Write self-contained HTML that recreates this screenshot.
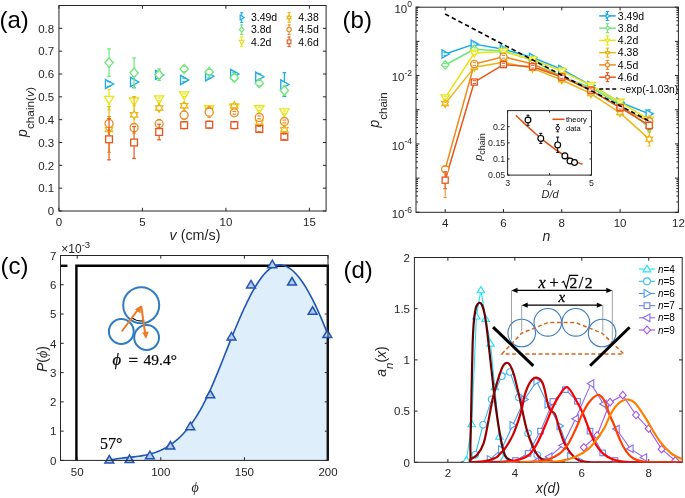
<!DOCTYPE html>
<html><head><meta charset="utf-8"><style>html,body{margin:0;padding:0;background:#fff;}svg{display:block;will-change:transform;}</style></head>
<body>
<svg width="685" height="498" viewBox="0 0 685 498" shape-rendering="geometricPrecision">
<rect width="685" height="498" fill="#fff"/>
<line x1="109.04" y1="81.76" x2="109.04" y2="86.33" stroke="#18aae8" stroke-width="1.2" />
<polygon points="105.44,79.45 113.64,84.05 105.44,88.65" fill="#fff" stroke="#18aae8" stroke-width="1.3" stroke-linejoin="miter"/>
<line x1="107.14" y1="81.76" x2="110.94" y2="81.76" stroke="#18aae8" stroke-width="1.2" />
<line x1="107.14" y1="86.33" x2="110.94" y2="86.33" stroke="#18aae8" stroke-width="1.2" />
<line x1="134.09" y1="76.28" x2="134.09" y2="87.7" stroke="#18aae8" stroke-width="1.2" />
<polygon points="130.49,77.39 138.69,81.99 130.49,86.59" fill="#fff" stroke="#18aae8" stroke-width="1.3" stroke-linejoin="miter"/>
<line x1="132.19" y1="76.28" x2="135.99" y2="76.28" stroke="#18aae8" stroke-width="1.2" />
<line x1="132.19" y1="87.7" x2="135.99" y2="87.7" stroke="#18aae8" stroke-width="1.2" />
<line x1="159.13" y1="71.49" x2="159.13" y2="78.34" stroke="#18aae8" stroke-width="1.2" />
<polygon points="155.53,70.31 163.73,74.91 155.53,79.51" fill="#fff" stroke="#18aae8" stroke-width="1.3" stroke-linejoin="miter"/>
<line x1="157.23" y1="71.49" x2="161.03" y2="71.49" stroke="#18aae8" stroke-width="1.2" />
<line x1="157.23" y1="78.34" x2="161.03" y2="78.34" stroke="#18aae8" stroke-width="1.2" />
<line x1="184.18" y1="78.11" x2="184.18" y2="81.76" stroke="#18aae8" stroke-width="1.2" />
<polygon points="180.58,75.34 188.78,79.94 180.58,84.54" fill="#fff" stroke="#18aae8" stroke-width="1.3" stroke-linejoin="miter"/>
<line x1="182.28" y1="78.11" x2="186.08" y2="78.11" stroke="#18aae8" stroke-width="1.2" />
<line x1="182.28" y1="81.76" x2="186.08" y2="81.76" stroke="#18aae8" stroke-width="1.2" />
<line x1="209.22" y1="74.46" x2="209.22" y2="78.11" stroke="#18aae8" stroke-width="1.2" />
<polygon points="205.62,71.68 213.82,76.28 205.62,80.88" fill="#fff" stroke="#18aae8" stroke-width="1.3" stroke-linejoin="miter"/>
<line x1="207.32" y1="74.46" x2="211.12" y2="74.46" stroke="#18aae8" stroke-width="1.2" />
<line x1="207.32" y1="78.11" x2="211.12" y2="78.11" stroke="#18aae8" stroke-width="1.2" />
<line x1="234.27" y1="72.17" x2="234.27" y2="75.83" stroke="#18aae8" stroke-width="1.2" />
<polygon points="230.67,69.4 238.87,74 230.67,78.6" fill="#fff" stroke="#18aae8" stroke-width="1.3" stroke-linejoin="miter"/>
<line x1="232.37" y1="72.17" x2="236.17" y2="72.17" stroke="#18aae8" stroke-width="1.2" />
<line x1="232.37" y1="75.83" x2="236.17" y2="75.83" stroke="#18aae8" stroke-width="1.2" />
<line x1="259.31" y1="74" x2="259.31" y2="79.48" stroke="#18aae8" stroke-width="1.2" />
<polygon points="255.71,72.14 263.91,76.74 255.71,81.34" fill="#fff" stroke="#18aae8" stroke-width="1.3" stroke-linejoin="miter"/>
<line x1="257.41" y1="74" x2="261.21" y2="74" stroke="#18aae8" stroke-width="1.2" />
<line x1="257.41" y1="79.48" x2="261.21" y2="79.48" stroke="#18aae8" stroke-width="1.2" />
<line x1="284.36" y1="72.63" x2="284.36" y2="96.38" stroke="#18aae8" stroke-width="1.2" />
<polygon points="280.76,79.9 288.96,84.5 280.76,89.1" fill="#fff" stroke="#18aae8" stroke-width="1.3" stroke-linejoin="miter"/>
<line x1="282.46" y1="72.63" x2="286.26" y2="72.63" stroke="#18aae8" stroke-width="1.2" />
<line x1="282.46" y1="96.38" x2="286.26" y2="96.38" stroke="#18aae8" stroke-width="1.2" />
<line x1="109.04" y1="48.88" x2="109.04" y2="76.28" stroke="#6ee67a" stroke-width="1.2" />
<polygon points="109.04,57.96 113.22,62.58 109.04,67.2 104.86,62.58" fill="#fff" stroke="#6ee67a" stroke-width="1.3" stroke-linejoin="miter"/>
<line x1="107.14" y1="48.88" x2="110.94" y2="48.88" stroke="#6ee67a" stroke-width="1.2" />
<line x1="107.14" y1="76.28" x2="110.94" y2="76.28" stroke="#6ee67a" stroke-width="1.2" />
<line x1="134.09" y1="58.02" x2="134.09" y2="87.7" stroke="#6ee67a" stroke-width="1.2" />
<polygon points="134.09,68.24 138.27,72.86 134.09,77.48 129.91,72.86" fill="#fff" stroke="#6ee67a" stroke-width="1.3" stroke-linejoin="miter"/>
<line x1="132.19" y1="58.02" x2="135.99" y2="58.02" stroke="#6ee67a" stroke-width="1.2" />
<line x1="132.19" y1="87.7" x2="135.99" y2="87.7" stroke="#6ee67a" stroke-width="1.2" />
<line x1="159.13" y1="68.98" x2="159.13" y2="80.39" stroke="#6ee67a" stroke-width="1.2" />
<polygon points="159.13,70.06 163.31,74.69 159.13,79.31 154.95,74.69" fill="#fff" stroke="#6ee67a" stroke-width="1.3" stroke-linejoin="miter"/>
<line x1="157.23" y1="68.98" x2="161.03" y2="68.98" stroke="#6ee67a" stroke-width="1.2" />
<line x1="157.23" y1="80.39" x2="161.03" y2="80.39" stroke="#6ee67a" stroke-width="1.2" />
<line x1="184.18" y1="66.24" x2="184.18" y2="71.72" stroke="#6ee67a" stroke-width="1.2" />
<polygon points="184.18,64.36 188.36,68.98 184.18,73.6 180,68.98" fill="#fff" stroke="#6ee67a" stroke-width="1.3" stroke-linejoin="miter"/>
<line x1="182.28" y1="66.24" x2="186.08" y2="66.24" stroke="#6ee67a" stroke-width="1.2" />
<line x1="182.28" y1="71.72" x2="186.08" y2="71.72" stroke="#6ee67a" stroke-width="1.2" />
<line x1="209.22" y1="69.21" x2="209.22" y2="74.69" stroke="#6ee67a" stroke-width="1.2" />
<polygon points="209.22,67.32 213.4,71.94 209.22,76.56 205.04,71.94" fill="#fff" stroke="#6ee67a" stroke-width="1.3" stroke-linejoin="miter"/>
<line x1="207.32" y1="69.21" x2="211.12" y2="69.21" stroke="#6ee67a" stroke-width="1.2" />
<line x1="207.32" y1="74.69" x2="211.12" y2="74.69" stroke="#6ee67a" stroke-width="1.2" />
<line x1="234.27" y1="74.23" x2="234.27" y2="81.08" stroke="#6ee67a" stroke-width="1.2" />
<polygon points="234.27,73.03 238.45,77.65 234.27,82.27 230.09,77.65" fill="#fff" stroke="#6ee67a" stroke-width="1.3" stroke-linejoin="miter"/>
<line x1="232.37" y1="74.23" x2="236.17" y2="74.23" stroke="#6ee67a" stroke-width="1.2" />
<line x1="232.37" y1="81.08" x2="236.17" y2="81.08" stroke="#6ee67a" stroke-width="1.2" />
<line x1="259.31" y1="80.39" x2="259.31" y2="85.87" stroke="#6ee67a" stroke-width="1.2" />
<polygon points="259.31,78.51 263.49,83.13 259.31,87.75 255.13,83.13" fill="#fff" stroke="#6ee67a" stroke-width="1.3" stroke-linejoin="miter"/>
<line x1="257.41" y1="80.39" x2="261.21" y2="80.39" stroke="#6ee67a" stroke-width="1.2" />
<line x1="257.41" y1="85.87" x2="261.21" y2="85.87" stroke="#6ee67a" stroke-width="1.2" />
<line x1="284.36" y1="85.87" x2="284.36" y2="95.01" stroke="#6ee67a" stroke-width="1.2" />
<polygon points="284.36,85.82 288.54,90.44 284.36,95.06 280.18,90.44" fill="#fff" stroke="#6ee67a" stroke-width="1.3" stroke-linejoin="miter"/>
<line x1="282.46" y1="85.87" x2="286.26" y2="85.87" stroke="#6ee67a" stroke-width="1.2" />
<line x1="282.46" y1="95.01" x2="286.26" y2="95.01" stroke="#6ee67a" stroke-width="1.2" />
<line x1="109.04" y1="89.53" x2="109.04" y2="110.08" stroke="#e6e614" stroke-width="1.2" />
<polygon points="104.44,96.4 113.64,96.4 109.04,104.2" fill="#fff" stroke="#e6e614" stroke-width="1.3" stroke-linejoin="miter"/>
<line x1="107.14" y1="89.53" x2="110.94" y2="89.53" stroke="#e6e614" stroke-width="1.2" />
<line x1="107.14" y1="110.08" x2="110.94" y2="110.08" stroke="#e6e614" stroke-width="1.2" />
<line x1="134.09" y1="96.83" x2="134.09" y2="105.97" stroke="#e6e614" stroke-width="1.2" />
<polygon points="129.49,98 138.69,98 134.09,105.8" fill="#fff" stroke="#e6e614" stroke-width="1.3" stroke-linejoin="miter"/>
<line x1="132.19" y1="96.83" x2="135.99" y2="96.83" stroke="#e6e614" stroke-width="1.2" />
<line x1="132.19" y1="105.97" x2="135.99" y2="105.97" stroke="#e6e614" stroke-width="1.2" />
<line x1="159.13" y1="97.98" x2="159.13" y2="100.72" stroke="#e6e614" stroke-width="1.2" />
<polygon points="154.53,95.95 163.73,95.95 159.13,103.75" fill="#fff" stroke="#e6e614" stroke-width="1.3" stroke-linejoin="miter"/>
<line x1="157.23" y1="97.98" x2="161.03" y2="97.98" stroke="#e6e614" stroke-width="1.2" />
<line x1="157.23" y1="100.72" x2="161.03" y2="100.72" stroke="#e6e614" stroke-width="1.2" />
<line x1="184.18" y1="93.86" x2="184.18" y2="96.61" stroke="#e6e614" stroke-width="1.2" />
<polygon points="179.58,91.83 188.78,91.83 184.18,99.64" fill="#fff" stroke="#e6e614" stroke-width="1.3" stroke-linejoin="miter"/>
<line x1="182.28" y1="93.86" x2="186.08" y2="93.86" stroke="#e6e614" stroke-width="1.2" />
<line x1="182.28" y1="96.61" x2="186.08" y2="96.61" stroke="#e6e614" stroke-width="1.2" />
<line x1="209.22" y1="107.79" x2="209.22" y2="110.53" stroke="#e6e614" stroke-width="1.2" />
<polygon points="204.62,105.76 213.82,105.76 209.22,113.56" fill="#fff" stroke="#e6e614" stroke-width="1.3" stroke-linejoin="miter"/>
<line x1="207.32" y1="107.79" x2="211.12" y2="107.79" stroke="#e6e614" stroke-width="1.2" />
<line x1="207.32" y1="110.53" x2="211.12" y2="110.53" stroke="#e6e614" stroke-width="1.2" />
<line x1="234.27" y1="106.42" x2="234.27" y2="109.16" stroke="#e6e614" stroke-width="1.2" />
<polygon points="229.67,104.39 238.87,104.39 234.27,112.19" fill="#fff" stroke="#e6e614" stroke-width="1.3" stroke-linejoin="miter"/>
<line x1="232.37" y1="106.42" x2="236.17" y2="106.42" stroke="#e6e614" stroke-width="1.2" />
<line x1="232.37" y1="109.16" x2="236.17" y2="109.16" stroke="#e6e614" stroke-width="1.2" />
<line x1="259.31" y1="107.79" x2="259.31" y2="110.53" stroke="#e6e614" stroke-width="1.2" />
<polygon points="254.71,105.76 263.91,105.76 259.31,113.56" fill="#fff" stroke="#e6e614" stroke-width="1.3" stroke-linejoin="miter"/>
<line x1="257.41" y1="107.79" x2="261.21" y2="107.79" stroke="#e6e614" stroke-width="1.2" />
<line x1="257.41" y1="110.53" x2="261.21" y2="110.53" stroke="#e6e614" stroke-width="1.2" />
<line x1="284.36" y1="110.99" x2="284.36" y2="113.73" stroke="#e6e614" stroke-width="1.2" />
<polygon points="279.76,108.96 288.96,108.96 284.36,116.76" fill="#fff" stroke="#e6e614" stroke-width="1.3" stroke-linejoin="miter"/>
<line x1="282.46" y1="110.99" x2="286.26" y2="110.99" stroke="#e6e614" stroke-width="1.2" />
<line x1="282.46" y1="113.73" x2="286.26" y2="113.73" stroke="#e6e614" stroke-width="1.2" />
<line x1="109.04" y1="106.65" x2="109.04" y2="152.32" stroke="#ecb612" stroke-width="1.2" />
<polygon points="109.04,125.29 110.26,127.38 112.68,127.39 111.48,129.49 112.68,131.59 110.26,131.59 109.04,133.69 107.82,131.59 105.4,131.59 106.6,129.49 105.4,127.39 107.82,127.38" fill="#fff" stroke="#ecb612" stroke-width="1.3" stroke-linejoin="miter"/>
<line x1="107.14" y1="106.65" x2="110.94" y2="106.65" stroke="#ecb612" stroke-width="1.2" />
<line x1="107.14" y1="152.32" x2="110.94" y2="152.32" stroke="#ecb612" stroke-width="1.2" />
<line x1="134.09" y1="96.61" x2="134.09" y2="133.14" stroke="#ecb612" stroke-width="1.2" />
<polygon points="134.09,110.67 135.3,112.76 137.72,112.77 136.52,114.87 137.72,116.97 135.3,116.98 134.09,119.07 132.87,116.98 130.45,116.97 131.65,114.87 130.45,112.77 132.87,112.76" fill="#fff" stroke="#ecb612" stroke-width="1.3" stroke-linejoin="miter"/>
<line x1="132.19" y1="96.61" x2="135.99" y2="96.61" stroke="#ecb612" stroke-width="1.2" />
<line x1="132.19" y1="133.14" x2="135.99" y2="133.14" stroke="#ecb612" stroke-width="1.2" />
<line x1="159.13" y1="105.74" x2="159.13" y2="110.31" stroke="#ecb612" stroke-width="1.2" />
<polygon points="159.13,103.82 160.35,105.91 162.77,105.92 161.57,108.02 162.77,110.12 160.35,110.13 159.13,112.22 157.91,110.13 155.49,110.12 156.7,108.02 155.49,105.92 157.91,105.91" fill="#fff" stroke="#ecb612" stroke-width="1.3" stroke-linejoin="miter"/>
<line x1="157.23" y1="105.74" x2="161.03" y2="105.74" stroke="#ecb612" stroke-width="1.2" />
<line x1="157.23" y1="110.31" x2="161.03" y2="110.31" stroke="#ecb612" stroke-width="1.2" />
<line x1="184.18" y1="103.45" x2="184.18" y2="108.02" stroke="#ecb612" stroke-width="1.2" />
<polygon points="184.18,101.54 185.39,103.63 187.81,103.64 186.61,105.74 187.81,107.84 185.39,107.85 184.18,109.94 182.96,107.85 180.54,107.84 181.74,105.74 180.54,103.64 182.96,103.63" fill="#fff" stroke="#ecb612" stroke-width="1.3" stroke-linejoin="miter"/>
<line x1="182.28" y1="103.45" x2="186.08" y2="103.45" stroke="#ecb612" stroke-width="1.2" />
<line x1="182.28" y1="108.02" x2="186.08" y2="108.02" stroke="#ecb612" stroke-width="1.2" />
<line x1="209.22" y1="108.71" x2="209.22" y2="112.36" stroke="#ecb612" stroke-width="1.2" />
<polygon points="209.22,106.33 210.44,108.42 212.86,108.43 211.66,110.53 212.86,112.63 210.44,112.64 209.22,114.73 208,112.64 205.58,112.63 206.79,110.53 205.58,108.43 208,108.42" fill="#fff" stroke="#ecb612" stroke-width="1.3" stroke-linejoin="miter"/>
<line x1="207.32" y1="108.71" x2="211.12" y2="108.71" stroke="#ecb612" stroke-width="1.2" />
<line x1="207.32" y1="112.36" x2="211.12" y2="112.36" stroke="#ecb612" stroke-width="1.2" />
<line x1="234.27" y1="104.14" x2="234.27" y2="107.79" stroke="#ecb612" stroke-width="1.2" />
<polygon points="234.27,101.77 235.49,103.86 237.9,103.87 236.7,105.97 237.9,108.07 235.49,108.08 234.27,110.17 233.05,108.08 230.63,108.07 231.83,105.97 230.63,103.87 233.05,103.86" fill="#fff" stroke="#ecb612" stroke-width="1.3" stroke-linejoin="miter"/>
<line x1="232.37" y1="104.14" x2="236.17" y2="104.14" stroke="#ecb612" stroke-width="1.2" />
<line x1="232.37" y1="107.79" x2="236.17" y2="107.79" stroke="#ecb612" stroke-width="1.2" />
<line x1="259.31" y1="120.58" x2="259.31" y2="124.23" stroke="#ecb612" stroke-width="1.2" />
<polygon points="259.31,118.21 260.53,120.3 262.95,120.31 261.75,122.41 262.95,124.51 260.53,124.52 259.31,126.61 258.09,124.52 255.68,124.51 256.88,122.41 255.68,120.31 258.09,120.3" fill="#fff" stroke="#ecb612" stroke-width="1.3" stroke-linejoin="miter"/>
<line x1="257.41" y1="120.58" x2="261.21" y2="120.58" stroke="#ecb612" stroke-width="1.2" />
<line x1="257.41" y1="124.23" x2="261.21" y2="124.23" stroke="#ecb612" stroke-width="1.2" />
<line x1="284.36" y1="127.89" x2="284.36" y2="131.54" stroke="#ecb612" stroke-width="1.2" />
<polygon points="284.36,125.51 285.58,127.6 288,127.61 286.79,129.71 288,131.81 285.58,131.82 284.36,133.91 283.14,131.82 280.72,131.81 281.92,129.71 280.72,127.61 283.14,127.6" fill="#fff" stroke="#ecb612" stroke-width="1.3" stroke-linejoin="miter"/>
<line x1="282.46" y1="127.89" x2="286.26" y2="127.89" stroke="#ecb612" stroke-width="1.2" />
<line x1="282.46" y1="131.54" x2="286.26" y2="131.54" stroke="#ecb612" stroke-width="1.2" />
<line x1="109.04" y1="116.7" x2="109.04" y2="130.4" stroke="#ee8a1e" stroke-width="1.2" />
<circle cx="109.04" cy="123.55" r="4" fill="#fff" stroke="#ee8a1e" stroke-width="1.3"/>
<line x1="107.14" y1="116.7" x2="110.94" y2="116.7" stroke="#ee8a1e" stroke-width="1.2" />
<line x1="107.14" y1="130.4" x2="110.94" y2="130.4" stroke="#ee8a1e" stroke-width="1.2" />
<line x1="134.09" y1="123.66" x2="134.09" y2="131.65" stroke="#ee8a1e" stroke-width="1.2" />
<circle cx="134.09" cy="127.66" r="4" fill="#fff" stroke="#ee8a1e" stroke-width="1.3"/>
<line x1="132.19" y1="123.66" x2="135.99" y2="123.66" stroke="#ee8a1e" stroke-width="1.2" />
<line x1="132.19" y1="131.65" x2="135.99" y2="131.65" stroke="#ee8a1e" stroke-width="1.2" />
<line x1="159.13" y1="119.44" x2="159.13" y2="128.12" stroke="#ee8a1e" stroke-width="1.2" />
<circle cx="159.13" cy="123.78" r="4" fill="#fff" stroke="#ee8a1e" stroke-width="1.3"/>
<line x1="157.23" y1="119.44" x2="161.03" y2="119.44" stroke="#ee8a1e" stroke-width="1.2" />
<line x1="157.23" y1="128.12" x2="161.03" y2="128.12" stroke="#ee8a1e" stroke-width="1.2" />
<line x1="184.18" y1="111.1" x2="184.18" y2="119.1" stroke="#ee8a1e" stroke-width="1.2" />
<circle cx="184.18" cy="115.1" r="4" fill="#fff" stroke="#ee8a1e" stroke-width="1.3"/>
<line x1="182.28" y1="111.1" x2="186.08" y2="111.1" stroke="#ee8a1e" stroke-width="1.2" />
<line x1="182.28" y1="119.1" x2="186.08" y2="119.1" stroke="#ee8a1e" stroke-width="1.2" />
<line x1="209.22" y1="107.11" x2="209.22" y2="117.16" stroke="#ee8a1e" stroke-width="1.2" />
<circle cx="209.22" cy="112.13" r="4" fill="#fff" stroke="#ee8a1e" stroke-width="1.3"/>
<line x1="207.32" y1="107.11" x2="211.12" y2="107.11" stroke="#ee8a1e" stroke-width="1.2" />
<line x1="207.32" y1="117.16" x2="211.12" y2="117.16" stroke="#ee8a1e" stroke-width="1.2" />
<line x1="234.27" y1="111.45" x2="234.27" y2="114.19" stroke="#ee8a1e" stroke-width="1.2" />
<circle cx="234.27" cy="112.82" r="4" fill="#fff" stroke="#ee8a1e" stroke-width="1.3"/>
<line x1="232.37" y1="111.45" x2="236.17" y2="111.45" stroke="#ee8a1e" stroke-width="1.2" />
<line x1="232.37" y1="114.19" x2="236.17" y2="114.19" stroke="#ee8a1e" stroke-width="1.2" />
<line x1="259.31" y1="116.01" x2="259.31" y2="118.75" stroke="#ee8a1e" stroke-width="1.2" />
<circle cx="259.31" cy="117.38" r="4" fill="#fff" stroke="#ee8a1e" stroke-width="1.3"/>
<line x1="257.41" y1="116.01" x2="261.21" y2="116.01" stroke="#ee8a1e" stroke-width="1.2" />
<line x1="257.41" y1="118.75" x2="261.21" y2="118.75" stroke="#ee8a1e" stroke-width="1.2" />
<line x1="284.36" y1="120.12" x2="284.36" y2="122.86" stroke="#ee8a1e" stroke-width="1.2" />
<circle cx="284.36" cy="121.49" r="4" fill="#fff" stroke="#ee8a1e" stroke-width="1.3"/>
<line x1="282.46" y1="120.12" x2="286.26" y2="120.12" stroke="#ee8a1e" stroke-width="1.2" />
<line x1="282.46" y1="122.86" x2="286.26" y2="122.86" stroke="#ee8a1e" stroke-width="1.2" />
<line x1="109.04" y1="118.75" x2="109.04" y2="159.85" stroke="#e8561c" stroke-width="1.2" />
<rect x="105.64" y="135.9" width="6.8" height="6.8" fill="#fff" stroke="#e8561c" stroke-width="1.3"/>
<line x1="107.14" y1="118.75" x2="110.94" y2="118.75" stroke="#e8561c" stroke-width="1.2" />
<line x1="107.14" y1="159.85" x2="110.94" y2="159.85" stroke="#e8561c" stroke-width="1.2" />
<line x1="134.09" y1="126.52" x2="134.09" y2="158.48" stroke="#e8561c" stroke-width="1.2" />
<rect x="130.69" y="139.1" width="6.8" height="6.8" fill="#fff" stroke="#e8561c" stroke-width="1.3"/>
<line x1="132.19" y1="126.52" x2="135.99" y2="126.52" stroke="#e8561c" stroke-width="1.2" />
<line x1="132.19" y1="158.48" x2="135.99" y2="158.48" stroke="#e8561c" stroke-width="1.2" />
<line x1="159.13" y1="124.23" x2="159.13" y2="139.76" stroke="#e8561c" stroke-width="1.2" />
<rect x="155.73" y="128.6" width="6.8" height="6.8" fill="#fff" stroke="#e8561c" stroke-width="1.3"/>
<line x1="157.23" y1="124.23" x2="161.03" y2="124.23" stroke="#e8561c" stroke-width="1.2" />
<line x1="157.23" y1="139.76" x2="161.03" y2="139.76" stroke="#e8561c" stroke-width="1.2" />
<line x1="184.18" y1="121.72" x2="184.18" y2="128.57" stroke="#e8561c" stroke-width="1.2" />
<rect x="180.78" y="121.75" width="6.8" height="6.8" fill="#fff" stroke="#e8561c" stroke-width="1.3"/>
<line x1="182.28" y1="121.72" x2="186.08" y2="121.72" stroke="#e8561c" stroke-width="1.2" />
<line x1="182.28" y1="128.57" x2="186.08" y2="128.57" stroke="#e8561c" stroke-width="1.2" />
<line x1="209.22" y1="121.27" x2="209.22" y2="128.12" stroke="#e8561c" stroke-width="1.2" />
<rect x="205.82" y="121.29" width="6.8" height="6.8" fill="#fff" stroke="#e8561c" stroke-width="1.3"/>
<line x1="207.32" y1="121.27" x2="211.12" y2="121.27" stroke="#e8561c" stroke-width="1.2" />
<line x1="207.32" y1="128.12" x2="211.12" y2="128.12" stroke="#e8561c" stroke-width="1.2" />
<line x1="234.27" y1="121.72" x2="234.27" y2="128.57" stroke="#e8561c" stroke-width="1.2" />
<rect x="230.87" y="121.75" width="6.8" height="6.8" fill="#fff" stroke="#e8561c" stroke-width="1.3"/>
<line x1="232.37" y1="121.72" x2="236.17" y2="121.72" stroke="#e8561c" stroke-width="1.2" />
<line x1="232.37" y1="128.57" x2="236.17" y2="128.57" stroke="#e8561c" stroke-width="1.2" />
<line x1="259.31" y1="126.29" x2="259.31" y2="131.77" stroke="#e8561c" stroke-width="1.2" />
<rect x="255.91" y="125.63" width="6.8" height="6.8" fill="#fff" stroke="#e8561c" stroke-width="1.3"/>
<line x1="257.41" y1="126.29" x2="261.21" y2="126.29" stroke="#e8561c" stroke-width="1.2" />
<line x1="257.41" y1="131.77" x2="261.21" y2="131.77" stroke="#e8561c" stroke-width="1.2" />
<line x1="284.36" y1="134.05" x2="284.36" y2="139.53" stroke="#e8561c" stroke-width="1.2" />
<rect x="280.96" y="133.39" width="6.8" height="6.8" fill="#fff" stroke="#e8561c" stroke-width="1.3"/>
<line x1="282.46" y1="134.05" x2="286.26" y2="134.05" stroke="#e8561c" stroke-width="1.2" />
<line x1="282.46" y1="139.53" x2="286.26" y2="139.53" stroke="#e8561c" stroke-width="1.2" />
<rect x="58.95" y="5.5" width="267.15" height="205.5" fill="none" stroke="#262626" stroke-width="1"/>
<line x1="58.95" y1="211" x2="58.95" y2="207.8" stroke="#262626" stroke-width="1" />
<line x1="58.95" y1="5.5" x2="58.95" y2="8.7" stroke="#262626" stroke-width="1" />
<text x="58.95" y="225.6" font-size="11.5" text-anchor="middle" fill="#262626" font-family='"Liberation Sans", sans-serif'  >0</text>
<line x1="142.43" y1="211" x2="142.43" y2="207.8" stroke="#262626" stroke-width="1" />
<line x1="142.43" y1="5.5" x2="142.43" y2="8.7" stroke="#262626" stroke-width="1" />
<text x="142.43" y="225.6" font-size="11.5" text-anchor="middle" fill="#262626" font-family='"Liberation Sans", sans-serif'  >5</text>
<line x1="225.92" y1="211" x2="225.92" y2="207.8" stroke="#262626" stroke-width="1" />
<line x1="225.92" y1="5.5" x2="225.92" y2="8.7" stroke="#262626" stroke-width="1" />
<text x="225.92" y="225.6" font-size="11.5" text-anchor="middle" fill="#262626" font-family='"Liberation Sans", sans-serif'  >10</text>
<line x1="309.4" y1="211" x2="309.4" y2="207.8" stroke="#262626" stroke-width="1" />
<line x1="309.4" y1="5.5" x2="309.4" y2="8.7" stroke="#262626" stroke-width="1" />
<text x="309.4" y="225.6" font-size="11.5" text-anchor="middle" fill="#262626" font-family='"Liberation Sans", sans-serif'  >15</text>
<line x1="58.95" y1="211" x2="62.15" y2="211" stroke="#262626" stroke-width="1" />
<line x1="326.1" y1="211" x2="322.9" y2="211" stroke="#262626" stroke-width="1" />
<text x="54.2" y="215.3" font-size="11.5" text-anchor="end" fill="#262626" font-family='"Liberation Sans", sans-serif'  >0</text>
<line x1="58.95" y1="188.17" x2="62.15" y2="188.17" stroke="#262626" stroke-width="1" />
<line x1="326.1" y1="188.17" x2="322.9" y2="188.17" stroke="#262626" stroke-width="1" />
<text x="54.2" y="192.47" font-size="11.5" text-anchor="end" fill="#262626" font-family='"Liberation Sans", sans-serif'  >0.1</text>
<line x1="58.95" y1="165.33" x2="62.15" y2="165.33" stroke="#262626" stroke-width="1" />
<line x1="326.1" y1="165.33" x2="322.9" y2="165.33" stroke="#262626" stroke-width="1" />
<text x="54.2" y="169.63" font-size="11.5" text-anchor="end" fill="#262626" font-family='"Liberation Sans", sans-serif'  >0.2</text>
<line x1="58.95" y1="142.5" x2="62.15" y2="142.5" stroke="#262626" stroke-width="1" />
<line x1="326.1" y1="142.5" x2="322.9" y2="142.5" stroke="#262626" stroke-width="1" />
<text x="54.2" y="146.8" font-size="11.5" text-anchor="end" fill="#262626" font-family='"Liberation Sans", sans-serif'  >0.3</text>
<line x1="58.95" y1="119.67" x2="62.15" y2="119.67" stroke="#262626" stroke-width="1" />
<line x1="326.1" y1="119.67" x2="322.9" y2="119.67" stroke="#262626" stroke-width="1" />
<text x="54.2" y="123.97" font-size="11.5" text-anchor="end" fill="#262626" font-family='"Liberation Sans", sans-serif'  >0.4</text>
<line x1="58.95" y1="96.83" x2="62.15" y2="96.83" stroke="#262626" stroke-width="1" />
<line x1="326.1" y1="96.83" x2="322.9" y2="96.83" stroke="#262626" stroke-width="1" />
<text x="54.2" y="101.13" font-size="11.5" text-anchor="end" fill="#262626" font-family='"Liberation Sans", sans-serif'  >0.5</text>
<line x1="58.95" y1="74" x2="62.15" y2="74" stroke="#262626" stroke-width="1" />
<line x1="326.1" y1="74" x2="322.9" y2="74" stroke="#262626" stroke-width="1" />
<text x="54.2" y="78.3" font-size="11.5" text-anchor="end" fill="#262626" font-family='"Liberation Sans", sans-serif'  >0.6</text>
<line x1="58.95" y1="51.17" x2="62.15" y2="51.17" stroke="#262626" stroke-width="1" />
<line x1="326.1" y1="51.17" x2="322.9" y2="51.17" stroke="#262626" stroke-width="1" />
<text x="54.2" y="55.47" font-size="11.5" text-anchor="end" fill="#262626" font-family='"Liberation Sans", sans-serif'  >0.7</text>
<line x1="58.95" y1="28.33" x2="62.15" y2="28.33" stroke="#262626" stroke-width="1" />
<line x1="326.1" y1="28.33" x2="322.9" y2="28.33" stroke="#262626" stroke-width="1" />
<text x="54.2" y="32.63" font-size="11.5" text-anchor="end" fill="#262626" font-family='"Liberation Sans", sans-serif'  >0.8</text>
<line x1="241.7" y1="12.7" x2="241.7" y2="22.3" stroke="#18aae8" stroke-width="1.1" />
<line x1="240.1" y1="12.7" x2="243.3" y2="12.7" stroke="#18aae8" stroke-width="1.1" />
<line x1="240.1" y1="22.3" x2="243.3" y2="22.3" stroke="#18aae8" stroke-width="1.1" />
<polygon points="240.17,14.97 244.23,17.5 240.17,20.03" fill="#fff" stroke="#18aae8" stroke-width="1.1" stroke-linejoin="miter"/>
<text x="250.9" y="21.2" font-size="10.5" text-anchor="start" fill="#000" font-family='"Liberation Sans", sans-serif'  >3.49d</text>
<line x1="241.7" y1="24.8" x2="241.7" y2="34.4" stroke="#6ee67a" stroke-width="1.1" />
<line x1="240.1" y1="24.8" x2="243.3" y2="24.8" stroke="#6ee67a" stroke-width="1.1" />
<line x1="240.1" y1="34.4" x2="243.3" y2="34.4" stroke="#6ee67a" stroke-width="1.1" />
<polygon points="241.7,27.06 244,29.6 241.7,32.14 239.4,29.6" fill="#fff" stroke="#6ee67a" stroke-width="1.1" stroke-linejoin="miter"/>
<text x="250.9" y="33.3" font-size="10.5" text-anchor="start" fill="#000" font-family='"Liberation Sans", sans-serif'  >3.8d</text>
<line x1="241.7" y1="37" x2="241.7" y2="46.6" stroke="#e6e614" stroke-width="1.1" />
<line x1="240.1" y1="37" x2="243.3" y2="37" stroke="#e6e614" stroke-width="1.1" />
<line x1="240.1" y1="46.6" x2="243.3" y2="46.6" stroke="#e6e614" stroke-width="1.1" />
<polygon points="239.17,40.38 244.23,40.38 241.7,44.22" fill="#fff" stroke="#e6e614" stroke-width="1.1" stroke-linejoin="miter"/>
<text x="250.9" y="45.5" font-size="10.5" text-anchor="start" fill="#000" font-family='"Liberation Sans", sans-serif'  >4.2d</text>
<line x1="289.1" y1="12.7" x2="289.1" y2="22.3" stroke="#ecb612" stroke-width="1.1" />
<line x1="287.5" y1="12.7" x2="290.7" y2="12.7" stroke="#ecb612" stroke-width="1.1" />
<line x1="287.5" y1="22.3" x2="290.7" y2="22.3" stroke="#ecb612" stroke-width="1.1" />
<polygon points="289.1,15.19 289.77,16.34 291.1,16.34 290.44,17.5 291.1,18.66 289.77,18.66 289.1,19.81 288.43,18.66 287.1,18.66 287.76,17.5 287.1,16.34 288.43,16.34" fill="#fff" stroke="#ecb612" stroke-width="1.1" stroke-linejoin="miter"/>
<text x="298.3" y="21.2" font-size="10.5" text-anchor="start" fill="#000" font-family='"Liberation Sans", sans-serif'  >4.38</text>
<line x1="289.1" y1="24.8" x2="289.1" y2="34.4" stroke="#ee8a1e" stroke-width="1.1" />
<line x1="287.5" y1="24.8" x2="290.7" y2="24.8" stroke="#ee8a1e" stroke-width="1.1" />
<line x1="287.5" y1="34.4" x2="290.7" y2="34.4" stroke="#ee8a1e" stroke-width="1.1" />
<circle cx="289.1" cy="29.6" r="2.2" fill="#fff" stroke="#ee8a1e" stroke-width="1.1"/>
<text x="298.3" y="33.3" font-size="10.5" text-anchor="start" fill="#000" font-family='"Liberation Sans", sans-serif'  >4.5d</text>
<line x1="289.1" y1="37" x2="289.1" y2="46.6" stroke="#e8561c" stroke-width="1.1" />
<line x1="287.5" y1="37" x2="290.7" y2="37" stroke="#e8561c" stroke-width="1.1" />
<line x1="287.5" y1="46.6" x2="290.7" y2="46.6" stroke="#e8561c" stroke-width="1.1" />
<rect x="287.23" y="39.93" width="3.74" height="3.74" fill="#fff" stroke="#e8561c" stroke-width="1.1"/>
<text x="298.3" y="45.5" font-size="10.5" text-anchor="start" fill="#000" font-family='"Liberation Sans", sans-serif'  >4.6d</text>
<text x="-0.6" y="27.6" font-size="24" text-anchor="start" fill="#000" font-family='"Liberation Sans", sans-serif'  >(a)</text>
<text x="195" y="239.6" font-size="14.3" text-anchor="middle" fill="#262626" font-family='"Liberation Sans", sans-serif'  ><tspan font-style="italic">v</tspan> (cm/s)</text>
<text transform="translate(27.1,112) rotate(-90)" font-family='"Liberation Sans", sans-serif' fill="#262626" text-anchor="middle" font-size="14"><tspan font-style="italic">p</tspan><tspan font-size="11.8" dy="7.2">chain(<tspan font-style="italic">v</tspan>)</tspan></text>
<polyline points="445.16,54.03 474.31,44.12 503.47,49.25 532.62,57.45 561.78,69.41 590.93,85.48 620.09,102.23 649.24,113.85" fill="none" stroke="#18aae8" stroke-width="1.5" stroke-linejoin="round" />
<polyline points="445.16,64.97 474.31,49.25 503.47,50.95 532.62,60.18 561.78,76.93 590.93,87.53 620.09,104.62 649.24,127.53" fill="none" stroke="#6ee67a" stroke-width="1.5" stroke-linejoin="round" />
<polyline points="445.16,97.79 474.31,53.01 503.47,51.64 532.62,59.5 561.78,71.12 590.93,85.48 620.09,102.23 649.24,120.01" fill="none" stroke="#e6e614" stroke-width="1.5" stroke-linejoin="round" />
<polyline points="445.16,103.6 474.31,67.36 503.47,62.24 532.62,68.39 561.78,80.01 590.93,93.68 620.09,112.83 649.24,139.15" fill="none" stroke="#ecb612" stroke-width="1.5" stroke-linejoin="round" />
<polyline points="445.16,169.23 474.31,63.94 503.47,56.77 532.62,63.94 561.78,76.93 590.93,90.27 620.09,107.7 649.24,121.37" fill="none" stroke="#ee8a1e" stroke-width="1.5" stroke-linejoin="round" />
<polyline points="445.16,180.17 474.31,82.06 503.47,64.63 532.62,66.68 561.78,76.93 590.93,90.27 620.09,107.7 649.24,125.47" fill="none" stroke="#e8561c" stroke-width="1.5" stroke-linejoin="round" />
<line x1="445.16" y1="52.66" x2="445.16" y2="55.4" stroke="#18aae8" stroke-width="1.0" />
<polygon points="442.02,49.89 449.3,54.03 442.02,58.17" fill="#fff" stroke="#18aae8" stroke-width="1.3" stroke-linejoin="miter"/>
<line x1="443.46" y1="52.66" x2="446.86" y2="52.66" stroke="#18aae8" stroke-width="1.0" />
<line x1="443.46" y1="55.4" x2="446.86" y2="55.4" stroke="#18aae8" stroke-width="1.0" />
<line x1="474.31" y1="42.75" x2="474.31" y2="45.49" stroke="#18aae8" stroke-width="1.0" />
<polygon points="471.17,39.98 478.45,44.12 471.17,48.26" fill="#fff" stroke="#18aae8" stroke-width="1.3" stroke-linejoin="miter"/>
<line x1="472.61" y1="42.75" x2="476.01" y2="42.75" stroke="#18aae8" stroke-width="1.0" />
<line x1="472.61" y1="45.49" x2="476.01" y2="45.49" stroke="#18aae8" stroke-width="1.0" />
<line x1="503.47" y1="47.88" x2="503.47" y2="50.61" stroke="#18aae8" stroke-width="1.0" />
<polygon points="500.33,45.11 507.61,49.25 500.33,53.39" fill="#fff" stroke="#18aae8" stroke-width="1.3" stroke-linejoin="miter"/>
<line x1="501.77" y1="47.88" x2="505.17" y2="47.88" stroke="#18aae8" stroke-width="1.0" />
<line x1="501.77" y1="50.61" x2="505.17" y2="50.61" stroke="#18aae8" stroke-width="1.0" />
<line x1="532.62" y1="56.08" x2="532.62" y2="58.82" stroke="#18aae8" stroke-width="1.0" />
<polygon points="529.48,53.31 536.76,57.45 529.48,61.59" fill="#fff" stroke="#18aae8" stroke-width="1.3" stroke-linejoin="miter"/>
<line x1="530.92" y1="56.08" x2="534.32" y2="56.08" stroke="#18aae8" stroke-width="1.0" />
<line x1="530.92" y1="58.82" x2="534.32" y2="58.82" stroke="#18aae8" stroke-width="1.0" />
<line x1="561.78" y1="68.05" x2="561.78" y2="70.78" stroke="#18aae8" stroke-width="1.0" />
<polygon points="558.64,65.27 565.92,69.41 558.64,73.55" fill="#fff" stroke="#18aae8" stroke-width="1.3" stroke-linejoin="miter"/>
<line x1="560.08" y1="68.05" x2="563.48" y2="68.05" stroke="#18aae8" stroke-width="1.0" />
<line x1="560.08" y1="70.78" x2="563.48" y2="70.78" stroke="#18aae8" stroke-width="1.0" />
<line x1="590.93" y1="84.11" x2="590.93" y2="86.85" stroke="#18aae8" stroke-width="1.0" />
<polygon points="587.79,81.34 595.07,85.48 587.79,89.62" fill="#fff" stroke="#18aae8" stroke-width="1.3" stroke-linejoin="miter"/>
<line x1="589.23" y1="84.11" x2="592.63" y2="84.11" stroke="#18aae8" stroke-width="1.0" />
<line x1="589.23" y1="86.85" x2="592.63" y2="86.85" stroke="#18aae8" stroke-width="1.0" />
<line x1="620.09" y1="100.86" x2="620.09" y2="103.6" stroke="#18aae8" stroke-width="1.0" />
<polygon points="616.95,98.09 624.23,102.23 616.95,106.37" fill="#fff" stroke="#18aae8" stroke-width="1.3" stroke-linejoin="miter"/>
<line x1="618.39" y1="100.86" x2="621.79" y2="100.86" stroke="#18aae8" stroke-width="1.0" />
<line x1="618.39" y1="103.6" x2="621.79" y2="103.6" stroke="#18aae8" stroke-width="1.0" />
<line x1="649.24" y1="109.75" x2="649.24" y2="117.95" stroke="#18aae8" stroke-width="1.0" />
<polygon points="646.1,109.71 653.38,113.85 646.1,117.99" fill="#fff" stroke="#18aae8" stroke-width="1.3" stroke-linejoin="miter"/>
<line x1="647.54" y1="109.75" x2="650.94" y2="109.75" stroke="#18aae8" stroke-width="1.0" />
<line x1="647.54" y1="117.95" x2="650.94" y2="117.95" stroke="#18aae8" stroke-width="1.0" />
<line x1="445.16" y1="63.6" x2="445.16" y2="66.34" stroke="#6ee67a" stroke-width="1.0" />
<polygon points="445.16,60.81 448.92,64.97 445.16,69.13 441.39,64.97" fill="#fff" stroke="#6ee67a" stroke-width="1.3" stroke-linejoin="miter"/>
<line x1="443.46" y1="63.6" x2="446.86" y2="63.6" stroke="#6ee67a" stroke-width="1.0" />
<line x1="443.46" y1="66.34" x2="446.86" y2="66.34" stroke="#6ee67a" stroke-width="1.0" />
<line x1="474.31" y1="47.88" x2="474.31" y2="50.61" stroke="#6ee67a" stroke-width="1.0" />
<polygon points="474.31,45.09 478.07,49.25 474.31,53.4 470.55,49.25" fill="#fff" stroke="#6ee67a" stroke-width="1.3" stroke-linejoin="miter"/>
<line x1="472.61" y1="47.88" x2="476.01" y2="47.88" stroke="#6ee67a" stroke-width="1.0" />
<line x1="472.61" y1="50.61" x2="476.01" y2="50.61" stroke="#6ee67a" stroke-width="1.0" />
<line x1="503.47" y1="49.59" x2="503.47" y2="52.32" stroke="#6ee67a" stroke-width="1.0" />
<polygon points="503.47,46.8 507.23,50.95 503.47,55.11 499.7,50.95" fill="#fff" stroke="#6ee67a" stroke-width="1.3" stroke-linejoin="miter"/>
<line x1="501.77" y1="49.59" x2="505.17" y2="49.59" stroke="#6ee67a" stroke-width="1.0" />
<line x1="501.77" y1="52.32" x2="505.17" y2="52.32" stroke="#6ee67a" stroke-width="1.0" />
<line x1="532.62" y1="58.82" x2="532.62" y2="61.55" stroke="#6ee67a" stroke-width="1.0" />
<polygon points="532.62,56.03 536.38,60.18 532.62,64.34 528.86,60.18" fill="#fff" stroke="#6ee67a" stroke-width="1.3" stroke-linejoin="miter"/>
<line x1="530.92" y1="58.82" x2="534.32" y2="58.82" stroke="#6ee67a" stroke-width="1.0" />
<line x1="530.92" y1="61.55" x2="534.32" y2="61.55" stroke="#6ee67a" stroke-width="1.0" />
<line x1="561.78" y1="75.57" x2="561.78" y2="78.3" stroke="#6ee67a" stroke-width="1.0" />
<polygon points="561.78,72.78 565.54,76.93 561.78,81.09 558.02,76.93" fill="#fff" stroke="#6ee67a" stroke-width="1.3" stroke-linejoin="miter"/>
<line x1="560.08" y1="75.57" x2="563.48" y2="75.57" stroke="#6ee67a" stroke-width="1.0" />
<line x1="560.08" y1="78.3" x2="563.48" y2="78.3" stroke="#6ee67a" stroke-width="1.0" />
<line x1="590.93" y1="86.16" x2="590.93" y2="88.9" stroke="#6ee67a" stroke-width="1.0" />
<polygon points="590.93,83.37 594.7,87.53 590.93,91.69 587.17,87.53" fill="#fff" stroke="#6ee67a" stroke-width="1.3" stroke-linejoin="miter"/>
<line x1="589.23" y1="86.16" x2="592.63" y2="86.16" stroke="#6ee67a" stroke-width="1.0" />
<line x1="589.23" y1="88.9" x2="592.63" y2="88.9" stroke="#6ee67a" stroke-width="1.0" />
<line x1="620.09" y1="103.26" x2="620.09" y2="105.99" stroke="#6ee67a" stroke-width="1.0" />
<polygon points="620.09,100.46 623.85,104.62 620.09,108.78 616.33,104.62" fill="#fff" stroke="#6ee67a" stroke-width="1.3" stroke-linejoin="miter"/>
<line x1="618.39" y1="103.26" x2="621.79" y2="103.26" stroke="#6ee67a" stroke-width="1.0" />
<line x1="618.39" y1="105.99" x2="621.79" y2="105.99" stroke="#6ee67a" stroke-width="1.0" />
<line x1="649.24" y1="123.42" x2="649.24" y2="131.63" stroke="#6ee67a" stroke-width="1.0" />
<polygon points="649.24,123.37 653.01,127.53 649.24,131.68 645.48,127.53" fill="#fff" stroke="#6ee67a" stroke-width="1.3" stroke-linejoin="miter"/>
<line x1="647.54" y1="123.42" x2="650.94" y2="123.42" stroke="#6ee67a" stroke-width="1.0" />
<line x1="647.54" y1="131.63" x2="650.94" y2="131.63" stroke="#6ee67a" stroke-width="1.0" />
<line x1="445.16" y1="96.42" x2="445.16" y2="99.15" stroke="#e6e614" stroke-width="1.0" />
<polygon points="441.02,94.83 449.3,94.83 445.16,101.75" fill="#fff" stroke="#e6e614" stroke-width="1.3" stroke-linejoin="miter"/>
<line x1="443.46" y1="96.42" x2="446.86" y2="96.42" stroke="#e6e614" stroke-width="1.0" />
<line x1="443.46" y1="99.15" x2="446.86" y2="99.15" stroke="#e6e614" stroke-width="1.0" />
<line x1="474.31" y1="51.64" x2="474.31" y2="54.37" stroke="#e6e614" stroke-width="1.0" />
<polygon points="470.17,50.05 478.45,50.05 474.31,56.97" fill="#fff" stroke="#e6e614" stroke-width="1.3" stroke-linejoin="miter"/>
<line x1="472.61" y1="51.64" x2="476.01" y2="51.64" stroke="#e6e614" stroke-width="1.0" />
<line x1="472.61" y1="54.37" x2="476.01" y2="54.37" stroke="#e6e614" stroke-width="1.0" />
<line x1="503.47" y1="50.27" x2="503.47" y2="53.01" stroke="#e6e614" stroke-width="1.0" />
<polygon points="499.33,48.68 507.61,48.68 503.47,55.6" fill="#fff" stroke="#e6e614" stroke-width="1.3" stroke-linejoin="miter"/>
<line x1="501.77" y1="50.27" x2="505.17" y2="50.27" stroke="#e6e614" stroke-width="1.0" />
<line x1="501.77" y1="53.01" x2="505.17" y2="53.01" stroke="#e6e614" stroke-width="1.0" />
<line x1="532.62" y1="58.13" x2="532.62" y2="60.87" stroke="#e6e614" stroke-width="1.0" />
<polygon points="528.48,56.54 536.76,56.54 532.62,63.46" fill="#fff" stroke="#e6e614" stroke-width="1.3" stroke-linejoin="miter"/>
<line x1="530.92" y1="58.13" x2="534.32" y2="58.13" stroke="#e6e614" stroke-width="1.0" />
<line x1="530.92" y1="60.87" x2="534.32" y2="60.87" stroke="#e6e614" stroke-width="1.0" />
<line x1="561.78" y1="69.76" x2="561.78" y2="72.49" stroke="#e6e614" stroke-width="1.0" />
<polygon points="557.64,68.16 565.92,68.16 561.78,75.08" fill="#fff" stroke="#e6e614" stroke-width="1.3" stroke-linejoin="miter"/>
<line x1="560.08" y1="69.76" x2="563.48" y2="69.76" stroke="#e6e614" stroke-width="1.0" />
<line x1="560.08" y1="72.49" x2="563.48" y2="72.49" stroke="#e6e614" stroke-width="1.0" />
<line x1="590.93" y1="84.11" x2="590.93" y2="86.85" stroke="#e6e614" stroke-width="1.0" />
<polygon points="586.79,82.52 595.07,82.52 590.93,89.44" fill="#fff" stroke="#e6e614" stroke-width="1.3" stroke-linejoin="miter"/>
<line x1="589.23" y1="84.11" x2="592.63" y2="84.11" stroke="#e6e614" stroke-width="1.0" />
<line x1="589.23" y1="86.85" x2="592.63" y2="86.85" stroke="#e6e614" stroke-width="1.0" />
<line x1="620.09" y1="100.86" x2="620.09" y2="103.6" stroke="#e6e614" stroke-width="1.0" />
<polygon points="615.95,99.27 624.23,99.27 620.09,106.19" fill="#fff" stroke="#e6e614" stroke-width="1.3" stroke-linejoin="miter"/>
<line x1="618.39" y1="100.86" x2="621.79" y2="100.86" stroke="#e6e614" stroke-width="1.0" />
<line x1="618.39" y1="103.6" x2="621.79" y2="103.6" stroke="#e6e614" stroke-width="1.0" />
<line x1="649.24" y1="115.9" x2="649.24" y2="124.11" stroke="#e6e614" stroke-width="1.0" />
<polygon points="645.1,117.05 653.38,117.05 649.24,123.97" fill="#fff" stroke="#e6e614" stroke-width="1.3" stroke-linejoin="miter"/>
<line x1="647.54" y1="115.9" x2="650.94" y2="115.9" stroke="#e6e614" stroke-width="1.0" />
<line x1="647.54" y1="124.11" x2="650.94" y2="124.11" stroke="#e6e614" stroke-width="1.0" />
<line x1="445.16" y1="102.23" x2="445.16" y2="104.96" stroke="#ecb612" stroke-width="1.0" />
<polygon points="445.16,99.82 446.25,101.7 448.43,101.71 447.35,103.6 448.43,105.49 446.25,105.5 445.16,107.38 444.06,105.5 441.88,105.49 442.96,103.6 441.88,101.71 444.06,101.7" fill="#fff" stroke="#ecb612" stroke-width="1.3" stroke-linejoin="miter"/>
<line x1="443.46" y1="102.23" x2="446.86" y2="102.23" stroke="#ecb612" stroke-width="1.0" />
<line x1="443.46" y1="104.96" x2="446.86" y2="104.96" stroke="#ecb612" stroke-width="1.0" />
<line x1="474.31" y1="66" x2="474.31" y2="68.73" stroke="#ecb612" stroke-width="1.0" />
<polygon points="474.31,63.58 475.41,65.46 477.58,65.47 476.5,67.36 477.58,69.25 475.41,69.26 474.31,71.14 473.21,69.26 471.04,69.25 472.12,67.36 471.04,65.47 473.21,65.46" fill="#fff" stroke="#ecb612" stroke-width="1.3" stroke-linejoin="miter"/>
<line x1="472.61" y1="66" x2="476.01" y2="66" stroke="#ecb612" stroke-width="1.0" />
<line x1="472.61" y1="68.73" x2="476.01" y2="68.73" stroke="#ecb612" stroke-width="1.0" />
<line x1="503.47" y1="60.87" x2="503.47" y2="63.6" stroke="#ecb612" stroke-width="1.0" />
<polygon points="503.47,58.46 504.56,60.34 506.74,60.35 505.66,62.24 506.74,64.13 504.56,64.13 503.47,66.02 502.37,64.13 500.19,64.13 501.27,62.24 500.19,60.35 502.37,60.34" fill="#fff" stroke="#ecb612" stroke-width="1.3" stroke-linejoin="miter"/>
<line x1="501.77" y1="60.87" x2="505.17" y2="60.87" stroke="#ecb612" stroke-width="1.0" />
<line x1="501.77" y1="63.6" x2="505.17" y2="63.6" stroke="#ecb612" stroke-width="1.0" />
<line x1="532.62" y1="67.02" x2="532.62" y2="69.76" stroke="#ecb612" stroke-width="1.0" />
<polygon points="532.62,64.61 533.72,66.49 535.9,66.5 534.81,68.39 535.9,70.28 533.72,70.29 532.62,72.17 531.53,70.29 529.35,70.28 530.43,68.39 529.35,66.5 531.53,66.49" fill="#fff" stroke="#ecb612" stroke-width="1.3" stroke-linejoin="miter"/>
<line x1="530.92" y1="67.02" x2="534.32" y2="67.02" stroke="#ecb612" stroke-width="1.0" />
<line x1="530.92" y1="69.76" x2="534.32" y2="69.76" stroke="#ecb612" stroke-width="1.0" />
<line x1="561.78" y1="78.64" x2="561.78" y2="81.38" stroke="#ecb612" stroke-width="1.0" />
<polygon points="561.78,76.23 562.87,78.11 565.05,78.12 563.97,80.01 565.05,81.9 562.87,81.91 561.78,83.79 560.68,81.91 558.5,81.9 559.59,80.01 558.5,78.12 560.68,78.11" fill="#fff" stroke="#ecb612" stroke-width="1.3" stroke-linejoin="miter"/>
<line x1="560.08" y1="78.64" x2="563.48" y2="78.64" stroke="#ecb612" stroke-width="1.0" />
<line x1="560.08" y1="81.38" x2="563.48" y2="81.38" stroke="#ecb612" stroke-width="1.0" />
<line x1="590.93" y1="92.32" x2="590.93" y2="95.05" stroke="#ecb612" stroke-width="1.0" />
<polygon points="590.93,89.9 592.03,91.79 594.21,91.79 593.13,93.68 594.21,95.57 592.03,95.58 590.93,97.46 589.84,95.58 587.66,95.57 588.74,93.68 587.66,91.79 589.84,91.79" fill="#fff" stroke="#ecb612" stroke-width="1.3" stroke-linejoin="miter"/>
<line x1="589.23" y1="92.32" x2="592.63" y2="92.32" stroke="#ecb612" stroke-width="1.0" />
<line x1="589.23" y1="95.05" x2="592.63" y2="95.05" stroke="#ecb612" stroke-width="1.0" />
<line x1="620.09" y1="111.46" x2="620.09" y2="114.19" stroke="#ecb612" stroke-width="1.0" />
<polygon points="620.09,109.05 621.19,110.93 623.36,110.94 622.28,112.83 623.36,114.72 621.19,114.73 620.09,116.61 618.99,114.73 616.82,114.72 617.9,112.83 616.82,110.94 618.99,110.93" fill="#fff" stroke="#ecb612" stroke-width="1.3" stroke-linejoin="miter"/>
<line x1="618.39" y1="111.46" x2="621.79" y2="111.46" stroke="#ecb612" stroke-width="1.0" />
<line x1="618.39" y1="114.19" x2="621.79" y2="114.19" stroke="#ecb612" stroke-width="1.0" />
<line x1="649.24" y1="132.31" x2="649.24" y2="145.98" stroke="#ecb612" stroke-width="1.0" />
<polygon points="649.24,135.37 650.34,137.25 652.52,137.26 651.44,139.15 652.52,141.04 650.34,141.05 649.24,142.93 648.15,141.05 645.97,141.04 647.05,139.15 645.97,137.26 648.15,137.25" fill="#fff" stroke="#ecb612" stroke-width="1.3" stroke-linejoin="miter"/>
<line x1="647.54" y1="132.31" x2="650.94" y2="132.31" stroke="#ecb612" stroke-width="1.0" />
<line x1="647.54" y1="145.98" x2="650.94" y2="145.98" stroke="#ecb612" stroke-width="1.0" />
<line x1="445.16" y1="166.32" x2="445.16" y2="197.6" stroke="#ee8a1e" stroke-width="1.0" />
<circle cx="445.16" cy="169.23" r="3.6" fill="#fff" stroke="#ee8a1e" stroke-width="1.3"/>
<line x1="443.46" y1="166.32" x2="446.86" y2="166.32" stroke="#ee8a1e" stroke-width="1.0" />
<line x1="443.46" y1="197.6" x2="446.86" y2="197.6" stroke="#ee8a1e" stroke-width="1.0" />
<line x1="474.31" y1="62.58" x2="474.31" y2="65.31" stroke="#ee8a1e" stroke-width="1.0" />
<circle cx="474.31" cy="63.94" r="3.6" fill="#fff" stroke="#ee8a1e" stroke-width="1.3"/>
<line x1="472.61" y1="62.58" x2="476.01" y2="62.58" stroke="#ee8a1e" stroke-width="1.0" />
<line x1="472.61" y1="65.31" x2="476.01" y2="65.31" stroke="#ee8a1e" stroke-width="1.0" />
<line x1="503.47" y1="55.4" x2="503.47" y2="58.13" stroke="#ee8a1e" stroke-width="1.0" />
<circle cx="503.47" cy="56.77" r="3.6" fill="#fff" stroke="#ee8a1e" stroke-width="1.3"/>
<line x1="501.77" y1="55.4" x2="505.17" y2="55.4" stroke="#ee8a1e" stroke-width="1.0" />
<line x1="501.77" y1="58.13" x2="505.17" y2="58.13" stroke="#ee8a1e" stroke-width="1.0" />
<line x1="532.62" y1="62.58" x2="532.62" y2="65.31" stroke="#ee8a1e" stroke-width="1.0" />
<circle cx="532.62" cy="63.94" r="3.6" fill="#fff" stroke="#ee8a1e" stroke-width="1.3"/>
<line x1="530.92" y1="62.58" x2="534.32" y2="62.58" stroke="#ee8a1e" stroke-width="1.0" />
<line x1="530.92" y1="65.31" x2="534.32" y2="65.31" stroke="#ee8a1e" stroke-width="1.0" />
<line x1="561.78" y1="75.57" x2="561.78" y2="78.3" stroke="#ee8a1e" stroke-width="1.0" />
<circle cx="561.78" cy="76.93" r="3.6" fill="#fff" stroke="#ee8a1e" stroke-width="1.3"/>
<line x1="560.08" y1="75.57" x2="563.48" y2="75.57" stroke="#ee8a1e" stroke-width="1.0" />
<line x1="560.08" y1="78.3" x2="563.48" y2="78.3" stroke="#ee8a1e" stroke-width="1.0" />
<line x1="590.93" y1="88.9" x2="590.93" y2="91.63" stroke="#ee8a1e" stroke-width="1.0" />
<circle cx="590.93" cy="90.27" r="3.6" fill="#fff" stroke="#ee8a1e" stroke-width="1.3"/>
<line x1="589.23" y1="88.9" x2="592.63" y2="88.9" stroke="#ee8a1e" stroke-width="1.0" />
<line x1="589.23" y1="91.63" x2="592.63" y2="91.63" stroke="#ee8a1e" stroke-width="1.0" />
<line x1="620.09" y1="106.33" x2="620.09" y2="109.07" stroke="#ee8a1e" stroke-width="1.0" />
<circle cx="620.09" cy="107.7" r="3.6" fill="#fff" stroke="#ee8a1e" stroke-width="1.3"/>
<line x1="618.39" y1="106.33" x2="621.79" y2="106.33" stroke="#ee8a1e" stroke-width="1.0" />
<line x1="618.39" y1="109.07" x2="621.79" y2="109.07" stroke="#ee8a1e" stroke-width="1.0" />
<line x1="649.24" y1="117.27" x2="649.24" y2="125.47" stroke="#ee8a1e" stroke-width="1.0" />
<circle cx="649.24" cy="121.37" r="3.6" fill="#fff" stroke="#ee8a1e" stroke-width="1.3"/>
<line x1="647.54" y1="117.27" x2="650.94" y2="117.27" stroke="#ee8a1e" stroke-width="1.0" />
<line x1="647.54" y1="125.47" x2="650.94" y2="125.47" stroke="#ee8a1e" stroke-width="1.0" />
<line x1="445.16" y1="171.62" x2="445.16" y2="188.71" stroke="#e8561c" stroke-width="1.0" />
<rect x="442.1" y="177.11" width="6.12" height="6.12" fill="#fff" stroke="#e8561c" stroke-width="1.3"/>
<line x1="443.46" y1="171.62" x2="446.86" y2="171.62" stroke="#e8561c" stroke-width="1.0" />
<line x1="443.46" y1="188.71" x2="446.86" y2="188.71" stroke="#e8561c" stroke-width="1.0" />
<line x1="474.31" y1="80.69" x2="474.31" y2="83.43" stroke="#e8561c" stroke-width="1.0" />
<rect x="471.25" y="79" width="6.12" height="6.12" fill="#fff" stroke="#e8561c" stroke-width="1.3"/>
<line x1="472.61" y1="80.69" x2="476.01" y2="80.69" stroke="#e8561c" stroke-width="1.0" />
<line x1="472.61" y1="83.43" x2="476.01" y2="83.43" stroke="#e8561c" stroke-width="1.0" />
<line x1="503.47" y1="63.26" x2="503.47" y2="66" stroke="#e8561c" stroke-width="1.0" />
<rect x="500.41" y="61.57" width="6.12" height="6.12" fill="#fff" stroke="#e8561c" stroke-width="1.3"/>
<line x1="501.77" y1="63.26" x2="505.17" y2="63.26" stroke="#e8561c" stroke-width="1.0" />
<line x1="501.77" y1="66" x2="505.17" y2="66" stroke="#e8561c" stroke-width="1.0" />
<line x1="532.62" y1="65.31" x2="532.62" y2="68.05" stroke="#e8561c" stroke-width="1.0" />
<rect x="529.56" y="63.62" width="6.12" height="6.12" fill="#fff" stroke="#e8561c" stroke-width="1.3"/>
<line x1="530.92" y1="65.31" x2="534.32" y2="65.31" stroke="#e8561c" stroke-width="1.0" />
<line x1="530.92" y1="68.05" x2="534.32" y2="68.05" stroke="#e8561c" stroke-width="1.0" />
<line x1="561.78" y1="75.57" x2="561.78" y2="78.3" stroke="#e8561c" stroke-width="1.0" />
<rect x="558.72" y="73.87" width="6.12" height="6.12" fill="#fff" stroke="#e8561c" stroke-width="1.3"/>
<line x1="560.08" y1="75.57" x2="563.48" y2="75.57" stroke="#e8561c" stroke-width="1.0" />
<line x1="560.08" y1="78.3" x2="563.48" y2="78.3" stroke="#e8561c" stroke-width="1.0" />
<line x1="590.93" y1="88.9" x2="590.93" y2="91.63" stroke="#e8561c" stroke-width="1.0" />
<rect x="587.87" y="87.21" width="6.12" height="6.12" fill="#fff" stroke="#e8561c" stroke-width="1.3"/>
<line x1="589.23" y1="88.9" x2="592.63" y2="88.9" stroke="#e8561c" stroke-width="1.0" />
<line x1="589.23" y1="91.63" x2="592.63" y2="91.63" stroke="#e8561c" stroke-width="1.0" />
<line x1="620.09" y1="106.33" x2="620.09" y2="109.07" stroke="#e8561c" stroke-width="1.0" />
<rect x="617.03" y="104.64" width="6.12" height="6.12" fill="#fff" stroke="#e8561c" stroke-width="1.3"/>
<line x1="618.39" y1="106.33" x2="621.79" y2="106.33" stroke="#e8561c" stroke-width="1.0" />
<line x1="618.39" y1="109.07" x2="621.79" y2="109.07" stroke="#e8561c" stroke-width="1.0" />
<line x1="649.24" y1="121.37" x2="649.24" y2="129.58" stroke="#e8561c" stroke-width="1.0" />
<rect x="646.18" y="122.41" width="6.12" height="6.12" fill="#fff" stroke="#e8561c" stroke-width="1.3"/>
<line x1="647.54" y1="121.37" x2="650.94" y2="121.37" stroke="#e8561c" stroke-width="1.0" />
<line x1="647.54" y1="129.58" x2="650.94" y2="129.58" stroke="#e8561c" stroke-width="1.0" />
<line x1="445.16" y1="14.04" x2="649.24" y2="121.07" stroke="#000" stroke-width="1.6" stroke-dasharray="4.5,3"/>
<rect x="416" y="7.2" width="262.4" height="205.1" fill="none" stroke="#262626" stroke-width="1"/>
<line x1="445.16" y1="212.3" x2="445.16" y2="209.1" stroke="#262626" stroke-width="1" />
<line x1="445.16" y1="7.2" x2="445.16" y2="10.4" stroke="#262626" stroke-width="1" />
<text x="445.16" y="227.1" font-size="11.5" text-anchor="middle" fill="#262626" font-family='"Liberation Sans", sans-serif'  >4</text>
<line x1="503.47" y1="212.3" x2="503.47" y2="209.1" stroke="#262626" stroke-width="1" />
<line x1="503.47" y1="7.2" x2="503.47" y2="10.4" stroke="#262626" stroke-width="1" />
<text x="503.47" y="227.1" font-size="11.5" text-anchor="middle" fill="#262626" font-family='"Liberation Sans", sans-serif'  >6</text>
<line x1="561.78" y1="212.3" x2="561.78" y2="209.1" stroke="#262626" stroke-width="1" />
<line x1="561.78" y1="7.2" x2="561.78" y2="10.4" stroke="#262626" stroke-width="1" />
<text x="561.78" y="227.1" font-size="11.5" text-anchor="middle" fill="#262626" font-family='"Liberation Sans", sans-serif'  >8</text>
<line x1="620.09" y1="212.3" x2="620.09" y2="209.1" stroke="#262626" stroke-width="1" />
<line x1="620.09" y1="7.2" x2="620.09" y2="10.4" stroke="#262626" stroke-width="1" />
<text x="620.09" y="227.1" font-size="11.5" text-anchor="middle" fill="#262626" font-family='"Liberation Sans", sans-serif'  >10</text>
<line x1="678.4" y1="212.3" x2="678.4" y2="209.1" stroke="#262626" stroke-width="1" />
<line x1="678.4" y1="7.2" x2="678.4" y2="10.4" stroke="#262626" stroke-width="1" />
<text x="678.4" y="227.1" font-size="11.5" text-anchor="middle" fill="#262626" font-family='"Liberation Sans", sans-serif'  >12</text>
<line x1="416" y1="7.2" x2="419.5" y2="7.2" stroke="#262626" stroke-width="1" />
<line x1="678.4" y1="7.2" x2="674.9" y2="7.2" stroke="#262626" stroke-width="1" />
<line x1="416" y1="31.09" x2="418" y2="31.09" stroke="#262626" stroke-width="1" />
<line x1="678.4" y1="31.09" x2="676.4" y2="31.09" stroke="#262626" stroke-width="1" />
<line x1="416" y1="25.07" x2="418" y2="25.07" stroke="#262626" stroke-width="1" />
<line x1="678.4" y1="25.07" x2="676.4" y2="25.07" stroke="#262626" stroke-width="1" />
<line x1="416" y1="20.8" x2="418" y2="20.8" stroke="#262626" stroke-width="1" />
<line x1="678.4" y1="20.8" x2="676.4" y2="20.8" stroke="#262626" stroke-width="1" />
<line x1="416" y1="17.49" x2="418" y2="17.49" stroke="#262626" stroke-width="1" />
<line x1="678.4" y1="17.49" x2="676.4" y2="17.49" stroke="#262626" stroke-width="1" />
<line x1="416" y1="14.78" x2="418" y2="14.78" stroke="#262626" stroke-width="1" />
<line x1="678.4" y1="14.78" x2="676.4" y2="14.78" stroke="#262626" stroke-width="1" />
<line x1="416" y1="12.5" x2="418" y2="12.5" stroke="#262626" stroke-width="1" />
<line x1="678.4" y1="12.5" x2="676.4" y2="12.5" stroke="#262626" stroke-width="1" />
<line x1="416" y1="10.51" x2="418" y2="10.51" stroke="#262626" stroke-width="1" />
<line x1="678.4" y1="10.51" x2="676.4" y2="10.51" stroke="#262626" stroke-width="1" />
<line x1="416" y1="8.76" x2="418" y2="8.76" stroke="#262626" stroke-width="1" />
<line x1="678.4" y1="8.76" x2="676.4" y2="8.76" stroke="#262626" stroke-width="1" />
<line x1="416" y1="41.38" x2="419.5" y2="41.38" stroke="#262626" stroke-width="1" />
<line x1="678.4" y1="41.38" x2="674.9" y2="41.38" stroke="#262626" stroke-width="1" />
<line x1="416" y1="65.28" x2="418" y2="65.28" stroke="#262626" stroke-width="1" />
<line x1="678.4" y1="65.28" x2="676.4" y2="65.28" stroke="#262626" stroke-width="1" />
<line x1="416" y1="59.26" x2="418" y2="59.26" stroke="#262626" stroke-width="1" />
<line x1="678.4" y1="59.26" x2="676.4" y2="59.26" stroke="#262626" stroke-width="1" />
<line x1="416" y1="54.99" x2="418" y2="54.99" stroke="#262626" stroke-width="1" />
<line x1="678.4" y1="54.99" x2="676.4" y2="54.99" stroke="#262626" stroke-width="1" />
<line x1="416" y1="51.67" x2="418" y2="51.67" stroke="#262626" stroke-width="1" />
<line x1="678.4" y1="51.67" x2="676.4" y2="51.67" stroke="#262626" stroke-width="1" />
<line x1="416" y1="48.97" x2="418" y2="48.97" stroke="#262626" stroke-width="1" />
<line x1="678.4" y1="48.97" x2="676.4" y2="48.97" stroke="#262626" stroke-width="1" />
<line x1="416" y1="46.68" x2="418" y2="46.68" stroke="#262626" stroke-width="1" />
<line x1="678.4" y1="46.68" x2="676.4" y2="46.68" stroke="#262626" stroke-width="1" />
<line x1="416" y1="44.7" x2="418" y2="44.7" stroke="#262626" stroke-width="1" />
<line x1="678.4" y1="44.7" x2="676.4" y2="44.7" stroke="#262626" stroke-width="1" />
<line x1="416" y1="42.95" x2="418" y2="42.95" stroke="#262626" stroke-width="1" />
<line x1="678.4" y1="42.95" x2="676.4" y2="42.95" stroke="#262626" stroke-width="1" />
<line x1="416" y1="75.57" x2="419.5" y2="75.57" stroke="#262626" stroke-width="1" />
<line x1="678.4" y1="75.57" x2="674.9" y2="75.57" stroke="#262626" stroke-width="1" />
<line x1="416" y1="99.46" x2="418" y2="99.46" stroke="#262626" stroke-width="1" />
<line x1="678.4" y1="99.46" x2="676.4" y2="99.46" stroke="#262626" stroke-width="1" />
<line x1="416" y1="93.44" x2="418" y2="93.44" stroke="#262626" stroke-width="1" />
<line x1="678.4" y1="93.44" x2="676.4" y2="93.44" stroke="#262626" stroke-width="1" />
<line x1="416" y1="89.17" x2="418" y2="89.17" stroke="#262626" stroke-width="1" />
<line x1="678.4" y1="89.17" x2="676.4" y2="89.17" stroke="#262626" stroke-width="1" />
<line x1="416" y1="85.86" x2="418" y2="85.86" stroke="#262626" stroke-width="1" />
<line x1="678.4" y1="85.86" x2="676.4" y2="85.86" stroke="#262626" stroke-width="1" />
<line x1="416" y1="83.15" x2="418" y2="83.15" stroke="#262626" stroke-width="1" />
<line x1="678.4" y1="83.15" x2="676.4" y2="83.15" stroke="#262626" stroke-width="1" />
<line x1="416" y1="80.86" x2="418" y2="80.86" stroke="#262626" stroke-width="1" />
<line x1="678.4" y1="80.86" x2="676.4" y2="80.86" stroke="#262626" stroke-width="1" />
<line x1="416" y1="78.88" x2="418" y2="78.88" stroke="#262626" stroke-width="1" />
<line x1="678.4" y1="78.88" x2="676.4" y2="78.88" stroke="#262626" stroke-width="1" />
<line x1="416" y1="77.13" x2="418" y2="77.13" stroke="#262626" stroke-width="1" />
<line x1="678.4" y1="77.13" x2="676.4" y2="77.13" stroke="#262626" stroke-width="1" />
<line x1="416" y1="109.75" x2="419.5" y2="109.75" stroke="#262626" stroke-width="1" />
<line x1="678.4" y1="109.75" x2="674.9" y2="109.75" stroke="#262626" stroke-width="1" />
<line x1="416" y1="133.64" x2="418" y2="133.64" stroke="#262626" stroke-width="1" />
<line x1="678.4" y1="133.64" x2="676.4" y2="133.64" stroke="#262626" stroke-width="1" />
<line x1="416" y1="127.62" x2="418" y2="127.62" stroke="#262626" stroke-width="1" />
<line x1="678.4" y1="127.62" x2="676.4" y2="127.62" stroke="#262626" stroke-width="1" />
<line x1="416" y1="123.35" x2="418" y2="123.35" stroke="#262626" stroke-width="1" />
<line x1="678.4" y1="123.35" x2="676.4" y2="123.35" stroke="#262626" stroke-width="1" />
<line x1="416" y1="120.04" x2="418" y2="120.04" stroke="#262626" stroke-width="1" />
<line x1="678.4" y1="120.04" x2="676.4" y2="120.04" stroke="#262626" stroke-width="1" />
<line x1="416" y1="117.33" x2="418" y2="117.33" stroke="#262626" stroke-width="1" />
<line x1="678.4" y1="117.33" x2="676.4" y2="117.33" stroke="#262626" stroke-width="1" />
<line x1="416" y1="115.05" x2="418" y2="115.05" stroke="#262626" stroke-width="1" />
<line x1="678.4" y1="115.05" x2="676.4" y2="115.05" stroke="#262626" stroke-width="1" />
<line x1="416" y1="113.06" x2="418" y2="113.06" stroke="#262626" stroke-width="1" />
<line x1="678.4" y1="113.06" x2="676.4" y2="113.06" stroke="#262626" stroke-width="1" />
<line x1="416" y1="111.31" x2="418" y2="111.31" stroke="#262626" stroke-width="1" />
<line x1="678.4" y1="111.31" x2="676.4" y2="111.31" stroke="#262626" stroke-width="1" />
<line x1="416" y1="143.93" x2="419.5" y2="143.93" stroke="#262626" stroke-width="1" />
<line x1="678.4" y1="143.93" x2="674.9" y2="143.93" stroke="#262626" stroke-width="1" />
<line x1="416" y1="167.83" x2="418" y2="167.83" stroke="#262626" stroke-width="1" />
<line x1="678.4" y1="167.83" x2="676.4" y2="167.83" stroke="#262626" stroke-width="1" />
<line x1="416" y1="161.81" x2="418" y2="161.81" stroke="#262626" stroke-width="1" />
<line x1="678.4" y1="161.81" x2="676.4" y2="161.81" stroke="#262626" stroke-width="1" />
<line x1="416" y1="157.54" x2="418" y2="157.54" stroke="#262626" stroke-width="1" />
<line x1="678.4" y1="157.54" x2="676.4" y2="157.54" stroke="#262626" stroke-width="1" />
<line x1="416" y1="154.22" x2="418" y2="154.22" stroke="#262626" stroke-width="1" />
<line x1="678.4" y1="154.22" x2="676.4" y2="154.22" stroke="#262626" stroke-width="1" />
<line x1="416" y1="151.52" x2="418" y2="151.52" stroke="#262626" stroke-width="1" />
<line x1="678.4" y1="151.52" x2="676.4" y2="151.52" stroke="#262626" stroke-width="1" />
<line x1="416" y1="149.23" x2="418" y2="149.23" stroke="#262626" stroke-width="1" />
<line x1="678.4" y1="149.23" x2="676.4" y2="149.23" stroke="#262626" stroke-width="1" />
<line x1="416" y1="147.25" x2="418" y2="147.25" stroke="#262626" stroke-width="1" />
<line x1="678.4" y1="147.25" x2="676.4" y2="147.25" stroke="#262626" stroke-width="1" />
<line x1="416" y1="145.5" x2="418" y2="145.5" stroke="#262626" stroke-width="1" />
<line x1="678.4" y1="145.5" x2="676.4" y2="145.5" stroke="#262626" stroke-width="1" />
<line x1="416" y1="178.12" x2="419.5" y2="178.12" stroke="#262626" stroke-width="1" />
<line x1="678.4" y1="178.12" x2="674.9" y2="178.12" stroke="#262626" stroke-width="1" />
<line x1="416" y1="202.01" x2="418" y2="202.01" stroke="#262626" stroke-width="1" />
<line x1="678.4" y1="202.01" x2="676.4" y2="202.01" stroke="#262626" stroke-width="1" />
<line x1="416" y1="195.99" x2="418" y2="195.99" stroke="#262626" stroke-width="1" />
<line x1="678.4" y1="195.99" x2="676.4" y2="195.99" stroke="#262626" stroke-width="1" />
<line x1="416" y1="191.72" x2="418" y2="191.72" stroke="#262626" stroke-width="1" />
<line x1="678.4" y1="191.72" x2="676.4" y2="191.72" stroke="#262626" stroke-width="1" />
<line x1="416" y1="188.41" x2="418" y2="188.41" stroke="#262626" stroke-width="1" />
<line x1="678.4" y1="188.41" x2="676.4" y2="188.41" stroke="#262626" stroke-width="1" />
<line x1="416" y1="185.7" x2="418" y2="185.7" stroke="#262626" stroke-width="1" />
<line x1="678.4" y1="185.7" x2="676.4" y2="185.7" stroke="#262626" stroke-width="1" />
<line x1="416" y1="183.41" x2="418" y2="183.41" stroke="#262626" stroke-width="1" />
<line x1="678.4" y1="183.41" x2="676.4" y2="183.41" stroke="#262626" stroke-width="1" />
<line x1="416" y1="181.43" x2="418" y2="181.43" stroke="#262626" stroke-width="1" />
<line x1="678.4" y1="181.43" x2="676.4" y2="181.43" stroke="#262626" stroke-width="1" />
<line x1="416" y1="179.68" x2="418" y2="179.68" stroke="#262626" stroke-width="1" />
<line x1="678.4" y1="179.68" x2="676.4" y2="179.68" stroke="#262626" stroke-width="1" />
<line x1="416" y1="212.3" x2="419.5" y2="212.3" stroke="#262626" stroke-width="1" />
<line x1="678.4" y1="212.3" x2="674.9" y2="212.3" stroke="#262626" stroke-width="1" />
<text x="412" y="12.9" font-size="11.5" text-anchor="end" fill="#262626" font-family='"Liberation Sans", sans-serif'>10<tspan font-size="8.5" dy="-5.5">0</tspan></text>
<text x="412" y="81.27" font-size="11.5" text-anchor="end" fill="#262626" font-family='"Liberation Sans", sans-serif'>10<tspan font-size="8.5" dy="-5.5">-2</tspan></text>
<text x="412" y="149.63" font-size="11.5" text-anchor="end" fill="#262626" font-family='"Liberation Sans", sans-serif'>10<tspan font-size="8.5" dy="-5.5">-4</tspan></text>
<text x="412" y="218" font-size="11.5" text-anchor="end" fill="#262626" font-family='"Liberation Sans", sans-serif'>10<tspan font-size="8.5" dy="-5.5">-6</tspan></text>
<line x1="599.2" y1="15.9" x2="615.8" y2="15.9" stroke="#18aae8" stroke-width="1.5" />
<line x1="607.5" y1="11.4" x2="607.5" y2="20.4" stroke="#18aae8" stroke-width="1.1" />
<line x1="605.8" y1="11.4" x2="609.2" y2="11.4" stroke="#18aae8" stroke-width="1.1" />
<line x1="605.8" y1="20.4" x2="609.2" y2="20.4" stroke="#18aae8" stroke-width="1.1" />
<polygon points="606.2,13.6 609.8,15.9 606.2,18.2" fill="#fff" stroke="#18aae8" stroke-width="1.1" stroke-linejoin="miter"/>
<text x="617.8" y="19.6" font-size="10.5" text-anchor="start" fill="#000" font-family='"Liberation Sans", sans-serif'  >3.49d</text>
<line x1="599.2" y1="28.15" x2="615.8" y2="28.15" stroke="#6ee67a" stroke-width="1.5" />
<line x1="607.5" y1="23.65" x2="607.5" y2="32.65" stroke="#6ee67a" stroke-width="1.1" />
<line x1="605.8" y1="23.65" x2="609.2" y2="23.65" stroke="#6ee67a" stroke-width="1.1" />
<line x1="605.8" y1="32.65" x2="609.2" y2="32.65" stroke="#6ee67a" stroke-width="1.1" />
<polygon points="607.5,25.84 609.59,28.15 607.5,30.46 605.41,28.15" fill="#fff" stroke="#6ee67a" stroke-width="1.1" stroke-linejoin="miter"/>
<text x="617.8" y="31.85" font-size="10.5" text-anchor="start" fill="#000" font-family='"Liberation Sans", sans-serif'  >3.8d</text>
<line x1="599.2" y1="40.4" x2="615.8" y2="40.4" stroke="#e6e614" stroke-width="1.5" />
<line x1="607.5" y1="35.9" x2="607.5" y2="44.9" stroke="#e6e614" stroke-width="1.1" />
<line x1="605.8" y1="35.9" x2="609.2" y2="35.9" stroke="#e6e614" stroke-width="1.1" />
<line x1="605.8" y1="44.9" x2="609.2" y2="44.9" stroke="#e6e614" stroke-width="1.1" />
<polygon points="605.2,39.2 609.8,39.2 607.5,42.6" fill="#fff" stroke="#e6e614" stroke-width="1.1" stroke-linejoin="miter"/>
<text x="617.8" y="44.1" font-size="10.5" text-anchor="start" fill="#000" font-family='"Liberation Sans", sans-serif'  >4.2d</text>
<line x1="599.2" y1="52.65" x2="615.8" y2="52.65" stroke="#ecb612" stroke-width="1.5" />
<line x1="607.5" y1="48.15" x2="607.5" y2="57.15" stroke="#ecb612" stroke-width="1.1" />
<line x1="605.8" y1="48.15" x2="609.2" y2="48.15" stroke="#ecb612" stroke-width="1.1" />
<line x1="605.8" y1="57.15" x2="609.2" y2="57.15" stroke="#ecb612" stroke-width="1.1" />
<polygon points="607.5,50.55 608.11,51.6 609.32,51.6 608.72,52.65 609.32,53.7 608.11,53.7 607.5,54.75 606.89,53.7 605.68,53.7 606.28,52.65 605.68,51.6 606.89,51.6" fill="#fff" stroke="#ecb612" stroke-width="1.1" stroke-linejoin="miter"/>
<text x="617.8" y="56.35" font-size="10.5" text-anchor="start" fill="#000" font-family='"Liberation Sans", sans-serif'  >4.38</text>
<line x1="599.2" y1="64.9" x2="615.8" y2="64.9" stroke="#ee8a1e" stroke-width="1.5" />
<line x1="607.5" y1="60.4" x2="607.5" y2="69.4" stroke="#ee8a1e" stroke-width="1.1" />
<line x1="605.8" y1="60.4" x2="609.2" y2="60.4" stroke="#ee8a1e" stroke-width="1.1" />
<line x1="605.8" y1="69.4" x2="609.2" y2="69.4" stroke="#ee8a1e" stroke-width="1.1" />
<circle cx="607.5" cy="64.9" r="2" fill="#fff" stroke="#ee8a1e" stroke-width="1.1"/>
<text x="617.8" y="68.6" font-size="10.5" text-anchor="start" fill="#000" font-family='"Liberation Sans", sans-serif'  >4.5d</text>
<line x1="599.2" y1="77.15" x2="615.8" y2="77.15" stroke="#e8561c" stroke-width="1.5" />
<line x1="607.5" y1="72.65" x2="607.5" y2="81.65" stroke="#e8561c" stroke-width="1.1" />
<line x1="605.8" y1="72.65" x2="609.2" y2="72.65" stroke="#e8561c" stroke-width="1.1" />
<line x1="605.8" y1="81.65" x2="609.2" y2="81.65" stroke="#e8561c" stroke-width="1.1" />
<rect x="605.8" y="75.45" width="3.4" height="3.4" fill="#fff" stroke="#e8561c" stroke-width="1.1"/>
<text x="617.8" y="80.85" font-size="10.5" text-anchor="start" fill="#000" font-family='"Liberation Sans", sans-serif'  >4.6d</text>
<line x1="599.2" y1="89" x2="618" y2="89" stroke="#000" stroke-width="1.5" stroke-dasharray="4,2.5"/>
<text x="619.6" y="92.7" font-size="10.3" text-anchor="start" fill="#000" font-family='"Liberation Sans", sans-serif'  >~exp(-1.03n)</text>
<text x="342.6" y="27.6" font-size="24" text-anchor="start" fill="#000" font-family='"Liberation Sans", sans-serif'  >(b)</text>
<text x="546.5" y="240.9" font-size="14" text-anchor="middle" fill="#262626" font-family='"Liberation Sans", sans-serif' font-style="italic" >n</text>
<text transform="translate(379.3,110) rotate(-90)" font-family='"Liberation Sans", sans-serif' fill="#262626" text-anchor="middle" font-size="14.4"><tspan font-style="italic">p</tspan><tspan font-size="11.5" dy="7.4">chain</tspan></text>
<rect x="507.6" y="110.6" width="83.9" height="64.5" fill="#fff" stroke="none"/>
<path d="M515.8,115.27 L518.1,117.52 L520.4,119.75 L522.7,121.95 L525,124.12 L527.3,126.27 L529.6,128.38 L531.9,130.46 L534.2,132.51 L536.5,134.52 L538.8,136.49 L541.1,138.43 L543.4,140.32 L545.7,142.17 L548,143.97 L550.3,145.72 L552.6,147.43 L554.9,149.08 L557.2,150.68 L559.5,152.23 L561.8,153.72 L564.1,155.15 L566.4,156.52 L568.7,157.83 L571,159.08 L573.3,160.25 L575.6,161.36 L577.9,162.41 L580.2,163.38 L582.5,164.27" fill="none" stroke="#e0521c" stroke-width="1.6"/>
<line x1="528" y1="115.2" x2="528" y2="125.3" stroke="#000" stroke-width="1" />
<line x1="526.5" y1="115.2" x2="529.5" y2="115.2" stroke="#000" stroke-width="1" />
<line x1="526.5" y1="125.3" x2="529.5" y2="125.3" stroke="#000" stroke-width="1" />
<circle cx="528" cy="120" r="2.9" fill="#fff" stroke="#000" stroke-width="1.15"/>
<line x1="540.8" y1="133.3" x2="540.8" y2="143.4" stroke="#000" stroke-width="1" />
<line x1="539.3" y1="133.3" x2="542.3" y2="133.3" stroke="#000" stroke-width="1" />
<line x1="539.3" y1="143.4" x2="542.3" y2="143.4" stroke="#000" stroke-width="1" />
<circle cx="540.8" cy="138.4" r="2.9" fill="#fff" stroke="#000" stroke-width="1.15"/>
<line x1="557.7" y1="137.1" x2="557.7" y2="152.4" stroke="#000" stroke-width="1" />
<line x1="556.2" y1="137.1" x2="559.2" y2="137.1" stroke="#000" stroke-width="1" />
<line x1="556.2" y1="152.4" x2="559.2" y2="152.4" stroke="#000" stroke-width="1" />
<circle cx="557.7" cy="144.9" r="2.9" fill="#fff" stroke="#000" stroke-width="1.15"/>
<line x1="564.9" y1="153" x2="564.9" y2="158.5" stroke="#000" stroke-width="1" />
<line x1="563.4" y1="153" x2="566.4" y2="153" stroke="#000" stroke-width="1" />
<line x1="563.4" y1="158.5" x2="566.4" y2="158.5" stroke="#000" stroke-width="1" />
<circle cx="564.9" cy="155.9" r="2.9" fill="#fff" stroke="#000" stroke-width="1.15"/>
<line x1="570" y1="158.5" x2="570" y2="163" stroke="#000" stroke-width="1" />
<line x1="568.5" y1="158.5" x2="571.5" y2="158.5" stroke="#000" stroke-width="1" />
<line x1="568.5" y1="163" x2="571.5" y2="163" stroke="#000" stroke-width="1" />
<circle cx="570" cy="161" r="2.9" fill="#fff" stroke="#000" stroke-width="1.15"/>
<line x1="574.5" y1="160.5" x2="574.5" y2="164.5" stroke="#000" stroke-width="1" />
<line x1="573" y1="160.5" x2="576" y2="160.5" stroke="#000" stroke-width="1" />
<line x1="573" y1="164.5" x2="576" y2="164.5" stroke="#000" stroke-width="1" />
<circle cx="574.5" cy="162.5" r="2.9" fill="#fff" stroke="#000" stroke-width="1.15"/>
<rect x="507.6" y="110.6" width="83.9" height="64.5" fill="none" stroke="#262626" stroke-width="1"/>
<line x1="507.6" y1="175.1" x2="507.6" y2="173.1" stroke="#262626" stroke-width="1" />
<line x1="507.6" y1="110.6" x2="507.6" y2="112.6" stroke="#262626" stroke-width="1" />
<text x="507.6" y="186.3" font-size="8.8" text-anchor="middle" fill="#262626" font-family='"Liberation Sans", sans-serif'  >3</text>
<line x1="549.55" y1="175.1" x2="549.55" y2="173.1" stroke="#262626" stroke-width="1" />
<line x1="549.55" y1="110.6" x2="549.55" y2="112.6" stroke="#262626" stroke-width="1" />
<text x="549.55" y="186.3" font-size="8.8" text-anchor="middle" fill="#262626" font-family='"Liberation Sans", sans-serif'  >4</text>
<line x1="591.5" y1="175.1" x2="591.5" y2="173.1" stroke="#262626" stroke-width="1" />
<line x1="591.5" y1="110.6" x2="591.5" y2="112.6" stroke="#262626" stroke-width="1" />
<text x="591.5" y="186.3" font-size="8.8" text-anchor="middle" fill="#262626" font-family='"Liberation Sans", sans-serif'  >5</text>
<line x1="507.6" y1="175.1" x2="509.6" y2="175.1" stroke="#262626" stroke-width="1" />
<line x1="591.5" y1="175.1" x2="589.5" y2="175.1" stroke="#262626" stroke-width="1" />
<text x="505.2" y="178.2" font-size="8.8" text-anchor="end" fill="#262626" font-family='"Liberation Sans", sans-serif'  >0.05</text>
<line x1="507.6" y1="158.97" x2="509.6" y2="158.97" stroke="#262626" stroke-width="1" />
<line x1="591.5" y1="158.97" x2="589.5" y2="158.97" stroke="#262626" stroke-width="1" />
<text x="505.2" y="162.07" font-size="8.8" text-anchor="end" fill="#262626" font-family='"Liberation Sans", sans-serif'  >0.1</text>
<line x1="507.6" y1="142.85" x2="509.6" y2="142.85" stroke="#262626" stroke-width="1" />
<line x1="591.5" y1="142.85" x2="589.5" y2="142.85" stroke="#262626" stroke-width="1" />
<text x="505.2" y="145.95" font-size="8.8" text-anchor="end" fill="#262626" font-family='"Liberation Sans", sans-serif'  >0.15</text>
<line x1="507.6" y1="126.72" x2="509.6" y2="126.72" stroke="#262626" stroke-width="1" />
<line x1="591.5" y1="126.72" x2="589.5" y2="126.72" stroke="#262626" stroke-width="1" />
<text x="505.2" y="129.82" font-size="8.8" text-anchor="end" fill="#262626" font-family='"Liberation Sans", sans-serif'  >0.2</text>
<line x1="552.4" y1="119.3" x2="564.5" y2="119.3" stroke="#e0521c" stroke-width="1.6" />
<text x="566" y="122" font-size="7.5" text-anchor="start" fill="#000" font-family='"Liberation Sans", sans-serif'  >theory</text>
<line x1="557.7" y1="124.6" x2="557.7" y2="131.8" stroke="#000" stroke-width="0.9" />
<line x1="556.4" y1="124.6" x2="559" y2="124.6" stroke="#000" stroke-width="0.9" />
<line x1="556.4" y1="131.8" x2="559" y2="131.8" stroke="#000" stroke-width="0.9" />
<circle cx="557.7" cy="128.1" r="1.8" fill="#fff" stroke="#000" stroke-width="0.9"/>
<text x="566" y="130.5" font-size="7.5" text-anchor="start" fill="#000" font-family='"Liberation Sans", sans-serif'  >data</text>
<text x="550" y="197.9" font-size="11" text-anchor="middle" fill="#262626" font-family='"Liberation Sans", sans-serif' font-style="italic" >D/d</text>
<text transform="translate(482,147) rotate(-90)" font-family='"Liberation Sans", sans-serif' fill="#262626" text-anchor="middle" font-size="11"><tspan font-style="italic">p</tspan><tspan font-size="9" dy="2.5">chain</tspan></text>
<path d="M109.3,460.05 L111.76,459.58 L114.21,459.17 L116.67,458.8 L119.13,458.48 L121.59,458.18 L124.04,457.91 L126.5,457.65 L128.96,457.39 L131.42,457.13 L133.87,456.85 L136.33,456.55 L138.79,456.22 L141.24,455.84 L143.7,455.41 L146.16,454.92 L148.62,454.36 L151.07,453.72 L153.53,452.99 L155.99,452.17 L158.45,451.23 L160.9,450.19 L163.36,449.01 L165.82,447.71 L168.28,446.26 L170.73,444.65 L173.19,442.89 L175.65,440.95 L178.1,438.84 L180.56,436.53 L183.02,434.03 L185.48,431.32 L187.93,428.39 L190.39,425.23 L192.85,421.83 L195.31,418.18 L197.76,414.27 L200.22,410.08 L202.68,405.62 L205.13,400.86 L207.59,395.8 L210.05,390.47 L212.51,384.89 L214.96,379.12 L217.42,373.18 L219.88,367.12 L222.34,360.98 L224.79,354.79 L227.25,348.59 L229.71,342.42 L232.17,336.32 L234.62,330.32 L237.08,324.44 L239.54,318.7 L241.99,313.13 L244.45,307.75 L246.91,302.58 L249.37,297.65 L251.82,292.97 L254.28,288.58 L256.74,284.49 L259.2,280.73 L261.65,277.32 L264.11,274.28 L266.57,271.64 L269.02,269.42 L271.48,267.64 L273.94,266.32 L276.4,265.45 L278.85,265.04 L281.31,265.06 L283.77,265.51 L286.23,266.39 L288.68,267.68 L291.14,269.38 L293.6,271.48 L296.06,273.96 L298.51,276.8 L300.97,280.01 L303.43,283.55 L305.88,287.42 L308.34,291.61 L310.8,296.11 L313.26,300.89 L315.71,305.95 L318.17,311.27 L320.63,316.84 L323.09,322.64 L325.54,328.67 L328,334.9 L328,460.4 L109.3,460.4 Z" fill="#dfeefb" stroke="none"/>
<polyline points="76.4,460.4 76.4,265.8 327.8,265.8 327.8,460.4" fill="none" stroke="#000" stroke-width="2.4"/>
<line x1="61" y1="265.8" x2="67.4" y2="265.8" stroke="#000" stroke-width="2.4"/>
<path d="M109.3,460.05 L111.76,459.58 L114.21,459.17 L116.67,458.8 L119.13,458.48 L121.59,458.18 L124.04,457.91 L126.5,457.65 L128.96,457.39 L131.42,457.13 L133.87,456.85 L136.33,456.55 L138.79,456.22 L141.24,455.84 L143.7,455.41 L146.16,454.92 L148.62,454.36 L151.07,453.72 L153.53,452.99 L155.99,452.17 L158.45,451.23 L160.9,450.19 L163.36,449.01 L165.82,447.71 L168.28,446.26 L170.73,444.65 L173.19,442.89 L175.65,440.95 L178.1,438.84 L180.56,436.53 L183.02,434.03 L185.48,431.32 L187.93,428.39 L190.39,425.23 L192.85,421.83 L195.31,418.18 L197.76,414.27 L200.22,410.08 L202.68,405.62 L205.13,400.86 L207.59,395.8 L210.05,390.47 L212.51,384.89 L214.96,379.12 L217.42,373.18 L219.88,367.12 L222.34,360.98 L224.79,354.79 L227.25,348.59 L229.71,342.42 L232.17,336.32 L234.62,330.32 L237.08,324.44 L239.54,318.7 L241.99,313.13 L244.45,307.75 L246.91,302.58 L249.37,297.65 L251.82,292.97 L254.28,288.58 L256.74,284.49 L259.2,280.73 L261.65,277.32 L264.11,274.28 L266.57,271.64 L269.02,269.42 L271.48,267.64 L273.94,266.32 L276.4,265.45 L278.85,265.04 L281.31,265.06 L283.77,265.51 L286.23,266.39 L288.68,267.68 L291.14,269.38 L293.6,271.48 L296.06,273.96 L298.51,276.8 L300.97,280.01 L303.43,283.55 L305.88,287.42 L308.34,291.61 L310.8,296.11 L313.26,300.89 L315.71,305.95 L318.17,311.27 L320.63,316.84 L323.09,322.64 L325.54,328.67 L328,334.9" fill="none" stroke="#1f55b4" stroke-width="1.6"/>
<polygon points="104.9,463.1 113.7,463.1 109.3,455.6" fill="#b9cbe8" stroke="#1f55b4" stroke-width="1.5"/>
<polygon points="125.1,462.5 133.9,462.5 129.5,455" fill="#b9cbe8" stroke="#1f55b4" stroke-width="1.5"/>
<polygon points="145.5,458.7 154.3,458.7 149.9,451.2" fill="#b9cbe8" stroke="#1f55b4" stroke-width="1.5"/>
<polygon points="166,449 174.8,449 170.4,441.5" fill="#b9cbe8" stroke="#1f55b4" stroke-width="1.5"/>
<polygon points="185.9,429.7 194.7,429.7 190.3,422.2" fill="#b9cbe8" stroke="#1f55b4" stroke-width="1.5"/>
<polygon points="205.9,397.8 214.7,397.8 210.3,390.3" fill="#b9cbe8" stroke="#1f55b4" stroke-width="1.5"/>
<polygon points="227.1,339.9 235.9,339.9 231.5,332.4" fill="#b9cbe8" stroke="#1f55b4" stroke-width="1.5"/>
<polygon points="246.6,287.9 255.4,287.9 251,280.4" fill="#b9cbe8" stroke="#1f55b4" stroke-width="1.5"/>
<polygon points="267.9,267.7 276.7,267.7 272.3,260.2" fill="#b9cbe8" stroke="#1f55b4" stroke-width="1.5"/>
<polygon points="287.6,285.1 296.4,285.1 292,277.6" fill="#b9cbe8" stroke="#1f55b4" stroke-width="1.5"/>
<polygon points="308.2,314.3 317,314.3 312.6,306.8" fill="#b9cbe8" stroke="#1f55b4" stroke-width="1.5"/>
<polygon points="322.9,337.6 331.7,337.6 327.3,330.1" fill="#b9cbe8" stroke="#1f55b4" stroke-width="1.5"/>
<rect x="60.5" y="255.5" width="267.5" height="204.9" fill="none" stroke="#262626" stroke-width="1"/>
<line x1="77.22" y1="460.4" x2="77.22" y2="457.2" stroke="#262626" stroke-width="1" />
<line x1="77.22" y1="255.5" x2="77.22" y2="258.7" stroke="#262626" stroke-width="1" />
<text x="77.22" y="475.6" font-size="11.5" text-anchor="middle" fill="#262626" font-family='"Liberation Sans", sans-serif'  >50</text>
<line x1="160.81" y1="460.4" x2="160.81" y2="457.2" stroke="#262626" stroke-width="1" />
<line x1="160.81" y1="255.5" x2="160.81" y2="258.7" stroke="#262626" stroke-width="1" />
<text x="160.81" y="475.6" font-size="11.5" text-anchor="middle" fill="#262626" font-family='"Liberation Sans", sans-serif'  >100</text>
<line x1="244.41" y1="460.4" x2="244.41" y2="457.2" stroke="#262626" stroke-width="1" />
<line x1="244.41" y1="255.5" x2="244.41" y2="258.7" stroke="#262626" stroke-width="1" />
<text x="244.41" y="475.6" font-size="11.5" text-anchor="middle" fill="#262626" font-family='"Liberation Sans", sans-serif'  >150</text>
<line x1="328" y1="460.4" x2="328" y2="457.2" stroke="#262626" stroke-width="1" />
<line x1="328" y1="255.5" x2="328" y2="258.7" stroke="#262626" stroke-width="1" />
<text x="328" y="475.6" font-size="11.5" text-anchor="middle" fill="#262626" font-family='"Liberation Sans", sans-serif'  >200</text>
<line x1="60.5" y1="460.4" x2="63.7" y2="460.4" stroke="#262626" stroke-width="1" />
<line x1="328" y1="460.4" x2="324.8" y2="460.4" stroke="#262626" stroke-width="1" />
<text x="56.5" y="464.7" font-size="11.5" text-anchor="end" fill="#262626" font-family='"Liberation Sans", sans-serif'  >0</text>
<line x1="60.5" y1="431.13" x2="63.7" y2="431.13" stroke="#262626" stroke-width="1" />
<line x1="328" y1="431.13" x2="324.8" y2="431.13" stroke="#262626" stroke-width="1" />
<text x="56.5" y="435.43" font-size="11.5" text-anchor="end" fill="#262626" font-family='"Liberation Sans", sans-serif'  >1</text>
<line x1="60.5" y1="401.86" x2="63.7" y2="401.86" stroke="#262626" stroke-width="1" />
<line x1="328" y1="401.86" x2="324.8" y2="401.86" stroke="#262626" stroke-width="1" />
<text x="56.5" y="406.16" font-size="11.5" text-anchor="end" fill="#262626" font-family='"Liberation Sans", sans-serif'  >2</text>
<line x1="60.5" y1="372.59" x2="63.7" y2="372.59" stroke="#262626" stroke-width="1" />
<line x1="328" y1="372.59" x2="324.8" y2="372.59" stroke="#262626" stroke-width="1" />
<text x="56.5" y="376.89" font-size="11.5" text-anchor="end" fill="#262626" font-family='"Liberation Sans", sans-serif'  >3</text>
<line x1="60.5" y1="343.31" x2="63.7" y2="343.31" stroke="#262626" stroke-width="1" />
<line x1="328" y1="343.31" x2="324.8" y2="343.31" stroke="#262626" stroke-width="1" />
<text x="56.5" y="347.61" font-size="11.5" text-anchor="end" fill="#262626" font-family='"Liberation Sans", sans-serif'  >4</text>
<line x1="60.5" y1="314.04" x2="63.7" y2="314.04" stroke="#262626" stroke-width="1" />
<line x1="328" y1="314.04" x2="324.8" y2="314.04" stroke="#262626" stroke-width="1" />
<text x="56.5" y="318.34" font-size="11.5" text-anchor="end" fill="#262626" font-family='"Liberation Sans", sans-serif'  >5</text>
<line x1="60.5" y1="284.77" x2="63.7" y2="284.77" stroke="#262626" stroke-width="1" />
<line x1="328" y1="284.77" x2="324.8" y2="284.77" stroke="#262626" stroke-width="1" />
<text x="56.5" y="289.07" font-size="11.5" text-anchor="end" fill="#262626" font-family='"Liberation Sans", sans-serif'  >6</text>
<line x1="60.5" y1="255.5" x2="63.7" y2="255.5" stroke="#262626" stroke-width="1" />
<line x1="328" y1="255.5" x2="324.8" y2="255.5" stroke="#262626" stroke-width="1" />
<text x="56.5" y="259.8" font-size="11.5" text-anchor="end" fill="#262626" font-family='"Liberation Sans", sans-serif'  >7</text>
<text x="61.3" y="253" font-size="12" fill="#262626" font-family='"Liberation Sans", sans-serif'>×10<tspan font-size="9.5" dy="-5.5">-3</tspan></text>
<text x="0.4" y="273.9" font-size="24" text-anchor="start" fill="#000" font-family='"Liberation Sans", sans-serif'  >(c)</text>
<text x="195" y="492" font-size="14" text-anchor="middle" fill="#262626" font-family='"Liberation Serif", serif' font-style="italic" >ϕ</text>
<text transform="translate(46.9,359) rotate(-90)" font-family='"Liberation Sans", sans-serif' fill="#262626" text-anchor="middle" font-size="14"><tspan font-style="italic">P</tspan>(<tspan font-family='"Liberation Serif", serif' font-style="italic">ϕ</tspan>)</text>
<circle cx="141.2" cy="305.3" r="18" fill="none" stroke="#2f7bc4" stroke-width="2"/>
<circle cx="121.3" cy="331.5" r="12.4" fill="none" stroke="#2f7bc4" stroke-width="2"/>
<circle cx="146.6" cy="337.5" r="12.4" fill="none" stroke="#2f7bc4" stroke-width="2"/>
<path d="M131.6,317.59 A15.6,15.6 0 0 0 144.18,320.61" fill="none" stroke="#000" stroke-width="1.1"/>
<line x1="121.7" y1="331.5" x2="138.5" y2="309" stroke="#ee7a26" stroke-width="2" />
<polygon points="141.2,305.3 140.5,313.5 135,309.5" fill="#ee7a26"/>
<line x1="141.2" y1="306" x2="145.2" y2="333.5" stroke="#ee7a26" stroke-width="2" />
<polygon points="146.1,339 148.8,331.5 142.2,332.5" fill="#ee7a26"/>
<text x="112.6" y="365.2" font-size="16.5" text-anchor="start" fill="#000" font-family='"Liberation Serif", serif' font-style="italic" stroke="#000" stroke-width="0.25" >ϕ</text>
<text x="133.4" y="366.4" font-size="17" text-anchor="middle" fill="#000" font-family='"Liberation Serif", serif' stroke="#000" stroke-width="0.35" >=</text>
<text x="143.6" y="365.2" font-size="15.5" text-anchor="start" fill="#000" font-family='"Liberation Serif", serif' stroke="#000" stroke-width="0.2" >49.4°</text>
<text x="100" y="449" font-size="16" text-anchor="start" fill="#000" font-family='"Liberation Serif", serif' stroke="#000" stroke-width="0.15" >57°</text>
<rect x="414.4" y="257.5" width="267.8" height="204.8" fill="none" stroke="#262626" stroke-width="1"/>
<line x1="447.88" y1="462.3" x2="447.88" y2="459.1" stroke="#262626" stroke-width="1" />
<line x1="447.88" y1="257.5" x2="447.88" y2="260.7" stroke="#262626" stroke-width="1" />
<text x="447.88" y="477.2" font-size="11.5" text-anchor="middle" fill="#262626" font-family='"Liberation Sans", sans-serif'  >2</text>
<line x1="514.83" y1="462.3" x2="514.83" y2="459.1" stroke="#262626" stroke-width="1" />
<line x1="514.83" y1="257.5" x2="514.83" y2="260.7" stroke="#262626" stroke-width="1" />
<text x="514.83" y="477.2" font-size="11.5" text-anchor="middle" fill="#262626" font-family='"Liberation Sans", sans-serif'  >4</text>
<line x1="581.78" y1="462.3" x2="581.78" y2="459.1" stroke="#262626" stroke-width="1" />
<line x1="581.78" y1="257.5" x2="581.78" y2="260.7" stroke="#262626" stroke-width="1" />
<text x="581.78" y="477.2" font-size="11.5" text-anchor="middle" fill="#262626" font-family='"Liberation Sans", sans-serif'  >6</text>
<line x1="648.73" y1="462.3" x2="648.73" y2="459.1" stroke="#262626" stroke-width="1" />
<line x1="648.73" y1="257.5" x2="648.73" y2="260.7" stroke="#262626" stroke-width="1" />
<text x="648.73" y="477.2" font-size="11.5" text-anchor="middle" fill="#262626" font-family='"Liberation Sans", sans-serif'  >8</text>
<line x1="414.4" y1="462.3" x2="417.6" y2="462.3" stroke="#262626" stroke-width="1" />
<line x1="682.2" y1="462.3" x2="679" y2="462.3" stroke="#262626" stroke-width="1" />
<text x="410" y="466.6" font-size="11.5" text-anchor="end" fill="#262626" font-family='"Liberation Sans", sans-serif'  >0</text>
<line x1="414.4" y1="411.1" x2="417.6" y2="411.1" stroke="#262626" stroke-width="1" />
<line x1="682.2" y1="411.1" x2="679" y2="411.1" stroke="#262626" stroke-width="1" />
<text x="410" y="415.4" font-size="11.5" text-anchor="end" fill="#262626" font-family='"Liberation Sans", sans-serif'  >0.5</text>
<line x1="414.4" y1="359.9" x2="417.6" y2="359.9" stroke="#262626" stroke-width="1" />
<line x1="682.2" y1="359.9" x2="679" y2="359.9" stroke="#262626" stroke-width="1" />
<text x="410" y="364.2" font-size="11.5" text-anchor="end" fill="#262626" font-family='"Liberation Sans", sans-serif'  >1</text>
<line x1="414.4" y1="308.7" x2="417.6" y2="308.7" stroke="#262626" stroke-width="1" />
<line x1="682.2" y1="308.7" x2="679" y2="308.7" stroke="#262626" stroke-width="1" />
<text x="410" y="313" font-size="11.5" text-anchor="end" fill="#262626" font-family='"Liberation Sans", sans-serif'  >1.5</text>
<line x1="414.4" y1="257.5" x2="417.6" y2="257.5" stroke="#262626" stroke-width="1" />
<line x1="682.2" y1="257.5" x2="679" y2="257.5" stroke="#262626" stroke-width="1" />
<text x="410" y="261.8" font-size="11.5" text-anchor="end" fill="#262626" font-family='"Liberation Sans", sans-serif'  >2</text>
<text x="343.4" y="277.9" font-size="24" text-anchor="start" fill="#000" font-family='"Liberation Sans", sans-serif'  >(d)</text>
<text x="548" y="492.7" font-size="14" text-anchor="middle" fill="#262626" font-family='"Liberation Sans", sans-serif' font-style="italic" >x(d)</text>
<text transform="translate(385.5,361.5) rotate(-90)" font-family='"Liberation Sans", sans-serif' fill="#262626" text-anchor="middle" font-size="14"><tspan font-style="italic">a</tspan><tspan font-size="11.5" dy="7.4" font-style="italic">n</tspan><tspan dy="-7.4">(<tspan font-style="italic">x</tspan>)</tspan></text>
<defs><clipPath id="dclip"><rect x="414.4" y="257.5" width="267.80000000000007" height="204.8"/></clipPath></defs>
<g clip-path="url(#dclip)">
<polyline points="466.5,460 471.7,424.2 476.4,316.4 480.9,290.2 485.7,318.8 490.5,343.5 494.8,387.2 499.4,436.6 503.9,458.7 508.6,462.2 513,462.3" fill="none" stroke="#22e0f6" stroke-width="1.1" stroke-linejoin="round" />
<polygon points="462.73,462.61 470.27,462.61 466.5,456.39" fill="#fff" stroke="#22e0f6" stroke-width="1.1" stroke-linejoin="miter"/>
<polygon points="467.93,426.81 475.47,426.81 471.7,420.59" fill="#fff" stroke="#22e0f6" stroke-width="1.1" stroke-linejoin="miter"/>
<polygon points="472.63,319.01 480.17,319.01 476.4,312.79" fill="#fff" stroke="#22e0f6" stroke-width="1.1" stroke-linejoin="miter"/>
<polygon points="477.13,292.81 484.67,292.81 480.9,286.59" fill="#fff" stroke="#22e0f6" stroke-width="1.1" stroke-linejoin="miter"/>
<polygon points="481.93,321.41 489.47,321.41 485.7,315.19" fill="#fff" stroke="#22e0f6" stroke-width="1.1" stroke-linejoin="miter"/>
<polygon points="486.73,346.11 494.27,346.11 490.5,339.89" fill="#fff" stroke="#22e0f6" stroke-width="1.1" stroke-linejoin="miter"/>
<polygon points="491.03,389.81 498.57,389.81 494.8,383.59" fill="#fff" stroke="#22e0f6" stroke-width="1.1" stroke-linejoin="miter"/>
<polygon points="495.63,439.21 503.17,439.21 499.4,432.99" fill="#fff" stroke="#22e0f6" stroke-width="1.1" stroke-linejoin="miter"/>
<polygon points="500.13,461.31 507.67,461.31 503.9,455.09" fill="#fff" stroke="#22e0f6" stroke-width="1.1" stroke-linejoin="miter"/>
<polygon points="504.83,464.81 512.37,464.81 508.6,458.59" fill="#fff" stroke="#22e0f6" stroke-width="1.1" stroke-linejoin="miter"/>
<polygon points="509.23,464.91 516.77,464.91 513,458.69" fill="#fff" stroke="#22e0f6" stroke-width="1.1" stroke-linejoin="miter"/>
<polyline points="475.2,454.8 483.1,424.8 491.6,399.3 501.8,376.2 509.9,372 518.9,397.4 528.1,433.3 537.2,455 546,461.8" fill="none" stroke="#36bcf6" stroke-width="1.1" stroke-linejoin="round" />
<circle cx="475.2" cy="454.8" r="3.28" fill="#fff" stroke="#36bcf6" stroke-width="1.1"/>
<circle cx="483.1" cy="424.8" r="3.28" fill="#fff" stroke="#36bcf6" stroke-width="1.1"/>
<circle cx="491.6" cy="399.3" r="3.28" fill="#fff" stroke="#36bcf6" stroke-width="1.1"/>
<circle cx="501.8" cy="376.2" r="3.28" fill="#fff" stroke="#36bcf6" stroke-width="1.1"/>
<circle cx="509.9" cy="372" r="3.28" fill="#fff" stroke="#36bcf6" stroke-width="1.1"/>
<circle cx="518.9" cy="397.4" r="3.28" fill="#fff" stroke="#36bcf6" stroke-width="1.1"/>
<circle cx="528.1" cy="433.3" r="3.28" fill="#fff" stroke="#36bcf6" stroke-width="1.1"/>
<circle cx="537.2" cy="455" r="3.28" fill="#fff" stroke="#36bcf6" stroke-width="1.1"/>
<circle cx="546" cy="461.8" r="3.28" fill="#fff" stroke="#36bcf6" stroke-width="1.1"/>
<polyline points="490,459.4 501.3,449.6 512.8,425.2 524.5,399.5 536.7,381.3 547.8,404.4 559.8,426 570.5,456.2 581.5,461.8" fill="none" stroke="#4a9af8" stroke-width="1.1" stroke-linejoin="round" />
<polygon points="487.23,455.63 493.77,459.4 487.23,463.17" fill="#fff" stroke="#4a9af8" stroke-width="1.1" stroke-linejoin="miter"/>
<polygon points="498.53,445.83 505.07,449.6 498.53,453.37" fill="#fff" stroke="#4a9af8" stroke-width="1.1" stroke-linejoin="miter"/>
<polygon points="510.03,421.43 516.57,425.2 510.03,428.97" fill="#fff" stroke="#4a9af8" stroke-width="1.1" stroke-linejoin="miter"/>
<polygon points="521.73,395.73 528.27,399.5 521.73,403.27" fill="#fff" stroke="#4a9af8" stroke-width="1.1" stroke-linejoin="miter"/>
<polygon points="533.93,377.53 540.47,381.3 533.93,385.07" fill="#fff" stroke="#4a9af8" stroke-width="1.1" stroke-linejoin="miter"/>
<polygon points="545.03,400.63 551.57,404.4 545.03,408.17" fill="#fff" stroke="#4a9af8" stroke-width="1.1" stroke-linejoin="miter"/>
<polygon points="557.03,422.23 563.57,426 557.03,429.77" fill="#fff" stroke="#4a9af8" stroke-width="1.1" stroke-linejoin="miter"/>
<polygon points="567.73,452.43 574.27,456.2 567.73,459.97" fill="#fff" stroke="#4a9af8" stroke-width="1.1" stroke-linejoin="miter"/>
<polygon points="578.73,458.03 585.27,461.8 578.73,465.57" fill="#fff" stroke="#4a9af8" stroke-width="1.1" stroke-linejoin="miter"/>
<polyline points="515.5,460.5 528.1,453.4 540.5,431.1 552.9,401.5 565.3,389.6 577.5,401.3 590,431.2 602.7,452.9 615,460.5" fill="none" stroke="#6684f2" stroke-width="1.1" stroke-linejoin="round" />
<rect x="512.71" y="457.71" width="5.58" height="5.58" fill="#fff" stroke="#6684f2" stroke-width="1.1"/>
<rect x="525.31" y="450.61" width="5.58" height="5.58" fill="#fff" stroke="#6684f2" stroke-width="1.1"/>
<rect x="537.71" y="428.31" width="5.58" height="5.58" fill="#fff" stroke="#6684f2" stroke-width="1.1"/>
<rect x="550.11" y="398.71" width="5.58" height="5.58" fill="#fff" stroke="#6684f2" stroke-width="1.1"/>
<rect x="562.51" y="386.81" width="5.58" height="5.58" fill="#fff" stroke="#6684f2" stroke-width="1.1"/>
<rect x="574.71" y="398.51" width="5.58" height="5.58" fill="#fff" stroke="#6684f2" stroke-width="1.1"/>
<rect x="587.21" y="428.41" width="5.58" height="5.58" fill="#fff" stroke="#6684f2" stroke-width="1.1"/>
<rect x="599.91" y="450.11" width="5.58" height="5.58" fill="#fff" stroke="#6684f2" stroke-width="1.1"/>
<rect x="612.21" y="457.71" width="5.58" height="5.58" fill="#fff" stroke="#6684f2" stroke-width="1.1"/>
<polyline points="536,461.5 549.1,456.8 562.6,445.5 575.6,418.8 591,383.6 603.4,404 616.4,429.1 630.3,448.7 643.9,457.4" fill="none" stroke="#8a6cf0" stroke-width="1.1" stroke-linejoin="round" />
<polygon points="538.77,457.73 532.23,461.5 538.77,465.27" fill="#fff" stroke="#8a6cf0" stroke-width="1.1" stroke-linejoin="miter"/>
<polygon points="551.87,453.03 545.33,456.8 551.87,460.57" fill="#fff" stroke="#8a6cf0" stroke-width="1.1" stroke-linejoin="miter"/>
<polygon points="565.37,441.73 558.83,445.5 565.37,449.27" fill="#fff" stroke="#8a6cf0" stroke-width="1.1" stroke-linejoin="miter"/>
<polygon points="578.37,415.03 571.83,418.8 578.37,422.57" fill="#fff" stroke="#8a6cf0" stroke-width="1.1" stroke-linejoin="miter"/>
<polygon points="593.77,379.83 587.23,383.6 593.77,387.37" fill="#fff" stroke="#8a6cf0" stroke-width="1.1" stroke-linejoin="miter"/>
<polygon points="606.17,400.23 599.63,404 606.17,407.77" fill="#fff" stroke="#8a6cf0" stroke-width="1.1" stroke-linejoin="miter"/>
<polygon points="619.17,425.33 612.63,429.1 619.17,432.87" fill="#fff" stroke="#8a6cf0" stroke-width="1.1" stroke-linejoin="miter"/>
<polygon points="633.07,444.93 626.53,448.7 633.07,452.47" fill="#fff" stroke="#8a6cf0" stroke-width="1.1" stroke-linejoin="miter"/>
<polygon points="646.67,453.63 640.13,457.4 646.67,461.17" fill="#fff" stroke="#8a6cf0" stroke-width="1.1" stroke-linejoin="miter"/>
<polyline points="583.8,447.4 597.1,435.4 610.1,402.2 622.8,395.2 636,415 648.6,428.6 661.6,449.2 675.3,460.6" fill="none" stroke="#a452ee" stroke-width="1.1" stroke-linejoin="round" />
<polygon points="583.8,443.61 587.23,447.4 583.8,451.19 580.37,447.4" fill="#fff" stroke="#a452ee" stroke-width="1.1" stroke-linejoin="miter"/>
<polygon points="597.1,431.61 600.53,435.4 597.1,439.19 593.67,435.4" fill="#fff" stroke="#a452ee" stroke-width="1.1" stroke-linejoin="miter"/>
<polygon points="610.1,398.41 613.53,402.2 610.1,405.99 606.67,402.2" fill="#fff" stroke="#a452ee" stroke-width="1.1" stroke-linejoin="miter"/>
<polygon points="622.8,391.41 626.23,395.2 622.8,398.99 619.37,395.2" fill="#fff" stroke="#a452ee" stroke-width="1.1" stroke-linejoin="miter"/>
<polygon points="636,411.21 639.43,415 636,418.79 632.57,415" fill="#fff" stroke="#a452ee" stroke-width="1.1" stroke-linejoin="miter"/>
<polygon points="648.6,424.81 652.03,428.6 648.6,432.39 645.17,428.6" fill="#fff" stroke="#a452ee" stroke-width="1.1" stroke-linejoin="miter"/>
<polygon points="661.6,445.41 665.03,449.2 661.6,452.99 658.17,449.2" fill="#fff" stroke="#a452ee" stroke-width="1.1" stroke-linejoin="miter"/>
<polygon points="675.3,456.81 678.73,460.6 675.3,464.39 671.87,460.6" fill="#fff" stroke="#a452ee" stroke-width="1.1" stroke-linejoin="miter"/>
<path d="M461.5,462.3 C462.88,462.27 468.32,464.98 469.8,462.1 C471.28,459.22 470.2,452.02 470.4,445 C470.6,437.98 470.83,427.5 471,420 C471.17,412.5 471.23,408.33 471.4,400 C471.57,391.67 471.8,379.17 472,370 C472.2,360.83 472.35,352.33 472.6,345 C472.85,337.67 473.17,331 473.5,326 C473.83,321 474.13,318.25 474.6,315 C475.07,311.75 475.53,308.53 476.3,306.5 C477.07,304.47 478.25,303.05 479.2,302.8 C480.15,302.55 481.07,302.97 482,305 C482.93,307.03 483.97,310.83 484.8,315 C485.63,319.17 486.22,323.83 487,330 C487.78,336.17 488.75,345.33 489.5,352 C490.25,358.67 490.6,362 491.5,370 C492.4,378 493.88,391.67 494.9,400 C495.92,408.33 496.58,413.33 497.6,420 C498.62,426.67 499.8,434.17 501,440 C502.2,445.83 503.47,451.75 504.8,455 C506.13,458.25 507.3,458.42 509,459.5 C510.7,460.58 512.33,461.05 515,461.5 C517.67,461.95 521.67,462.07 525,462.2 C528.33,462.33 533.33,462.28 535,462.3" fill="none" stroke="#660000" stroke-width="2.2"/>
<path d="M470.2,462.3 C470.28,461.82 469.53,460.65 470.7,459.4 C471.87,458.15 475.03,457.52 477.2,454.8 C479.37,452.08 481.8,448.9 483.7,443.1 C485.6,437.3 487.15,427.18 488.6,420 C490.05,412.82 491.23,405.4 492.4,400 C493.57,394.6 494.4,391.83 495.6,387.6 C496.8,383.37 498.37,378.2 499.6,374.6 C500.83,371 501.85,367.97 503,366 C504.15,364.03 505.33,362.97 506.5,362.8 C507.67,362.63 508.77,363.03 510,365 C511.23,366.97 512.48,369.92 513.9,374.6 C515.32,379.28 517.13,387.32 518.5,393.1 C519.87,398.88 520.75,403.28 522.1,409.3 C523.45,415.32 524.78,422.87 526.6,429.2 C528.42,435.53 531.03,442.78 533,447.3 C534.97,451.82 536.6,454.18 538.4,456.3 C540.2,458.42 541.53,459.08 543.8,460 C546.07,460.92 548.47,461.42 552,461.8 C555.53,462.18 562.83,462.22 565,462.3" fill="none" stroke="#990000" stroke-width="2.2"/>
<path d="M470.7,462.3 C473.08,462.12 480.95,461.9 485,461.2 C489.05,460.5 492.73,459.07 495,458.1 C497.27,457.13 496.8,457.2 498.6,455.4 C500.4,453.6 503.38,450.77 505.8,447.3 C508.22,443.83 510.98,439.12 513.1,434.6 C515.22,430.08 517,424.72 518.5,420.2 C520,415.68 521.05,411.72 522.1,407.5 C523.15,403.28 523.45,399.12 524.8,394.9 C526.15,390.68 528.23,385.07 530.2,382.2 C532.17,379.33 534.47,377.4 536.6,377.7 C538.73,378 540.92,378.92 543,384 C545.08,389.08 547.1,403.18 549.1,408.2 C551.1,413.22 553.17,410.27 555,414.1 C556.83,417.93 558.4,426.08 560.1,431.2 C561.8,436.32 562.92,440.53 565.2,444.8 C567.48,449.07 571.23,454.1 573.8,456.8 C576.37,459.5 577.9,460.1 580.6,461 C583.3,461.9 586.77,461.98 590,462.2 C593.23,462.42 584.5,462.28 600,462.3 C615.5,462.32 669.17,462.3 683,462.3" fill="none" stroke="#cc0000" stroke-width="2.2"/>
<path d="M480,462.3 C484.17,462.18 498.33,462.1 505,461.6 C511.67,461.1 515.83,460.57 520,459.3 C524.17,458.03 527.07,456.8 530,454 C532.93,451.2 535.05,447.28 537.6,442.5 C540.15,437.72 542.9,430.88 545.3,425.3 C547.7,419.72 549.82,413.72 552,409 C554.18,404.28 555.85,400.63 558.4,397 C560.95,393.37 564.17,386.33 567.3,387.2 C570.43,388.07 574.55,397.72 577.2,402.2 C579.85,406.68 581.22,409.55 583.2,414.1 C585.18,418.65 586.97,424.38 589.1,429.5 C591.23,434.62 593.72,440.82 596,444.8 C598.28,448.78 600.03,451 602.8,453.4 C605.57,455.8 608.9,457.8 612.6,459.2 C616.3,460.6 620.43,461.28 625,461.8 C629.57,462.32 630.33,462.22 640,462.3 C649.67,462.38 675.83,462.3 683,462.3" fill="none" stroke="#ff0000" stroke-width="2.2"/>
<path d="M500,462.3 C505,462.22 522.5,462.13 530,461.8 C537.5,461.47 540.83,461.18 545,460.3 C549.17,459.42 552.2,457.93 555,456.5 C557.8,455.07 559.52,453.93 561.8,451.7 C564.08,449.47 566.42,446.8 568.7,443.1 C570.98,439.4 573.23,434.33 575.5,429.5 C577.77,424.67 580.03,418.65 582.3,414.1 C584.57,409.55 586.53,405.38 589.1,402.2 C591.67,399.02 595.22,395.37 597.7,395 C600.18,394.63 602.13,397.03 604,400 C605.87,402.97 607.15,408.47 608.9,412.8 C610.65,417.13 612.62,421.4 614.5,426 C616.38,430.6 618.28,436.23 620.2,440.4 C622.12,444.57 623.92,448.07 626,451 C628.08,453.93 629.53,456.2 632.7,458 C635.87,459.8 640.45,461.08 645,461.8 C649.55,462.52 653.67,462.22 660,462.3 C666.33,462.38 679.17,462.3 683,462.3" fill="none" stroke="#ff4000" stroke-width="2.2"/>
<path d="M520,462.3 C524.17,462.25 538.33,462.22 545,462 C551.67,461.78 554.92,461.87 560,461 C565.08,460.13 570.65,458.92 575.5,456.8 C580.35,454.68 585.4,451.43 589.1,448.3 C592.8,445.17 595.13,441.42 597.7,438 C600.27,434.58 602.43,431.58 604.5,427.8 C606.57,424.02 608.18,418.93 610.1,415.3 C612.02,411.67 614.02,408.38 616,406 C617.98,403.62 619.9,402.07 622,401 C624.1,399.93 626.43,399.27 628.6,399.6 C630.77,399.93 632.62,400.62 635,403 C637.38,405.38 640.63,410.57 642.9,413.9 C645.17,417.23 646.68,419.82 648.6,423 C650.52,426.18 652.5,429.92 654.4,433 C656.3,436.08 658.1,438.97 660,441.5 C661.9,444.03 663.8,446.12 665.8,448.2 C667.8,450.28 669.88,452.43 672,454 C674.12,455.57 676.67,456.72 678.5,457.6 C680.33,458.48 682.25,459.02 683,459.3" fill="none" stroke="#ff8000" stroke-width="2.2"/>
</g>
<circle cx="521.7" cy="333" r="13.8" fill="none" stroke="#3d7cc2" stroke-width="1.1"/>
<circle cx="547.8" cy="322.3" r="13.8" fill="none" stroke="#3d7cc2" stroke-width="1.1"/>
<circle cx="575.8" cy="322.3" r="13.8" fill="none" stroke="#3d7cc2" stroke-width="1.1"/>
<circle cx="602.1" cy="333" r="13.8" fill="none" stroke="#3d7cc2" stroke-width="1.1"/>
<polygon points="501.9,353.9 521.7,333.2 547.8,322.6 575.8,322.6 602.1,333.2 623.8,353.9" fill="none" stroke="#d2691e" stroke-width="1.5" stroke-dasharray="4,2.6"/>
<line x1="511.5" y1="290.4" x2="511.5" y2="339.5" stroke="#8a8a8a" stroke-width="0.8" />
<line x1="612.3" y1="290.4" x2="612.3" y2="340.5" stroke="#8a8a8a" stroke-width="0.8" />
<line x1="521.7" y1="305.2" x2="521.7" y2="331.3" stroke="#8a8a8a" stroke-width="0.8" />
<line x1="602.8" y1="305.2" x2="602.8" y2="331.3" stroke="#8a8a8a" stroke-width="0.8" />
<line x1="515.5" y1="290.4" x2="608.3" y2="290.4" stroke="#000" stroke-width="1.2" />
<polygon points="511.5,290.4 517.5,287.79999999999995 517.5,293.0" fill="#000"/>
<polygon points="612.3,290.4 606.3,287.79999999999995 606.3,293.0" fill="#000"/>
<line x1="525.7" y1="305.2" x2="598.8" y2="305.2" stroke="#000" stroke-width="1.2" />
<polygon points="521.7,305.2 527.7,302.59999999999997 527.7,307.8" fill="#000"/>
<polygon points="602.8,305.2 596.8,302.59999999999997 596.8,307.8" fill="#000"/>
<line x1="493.1" y1="327.2" x2="533.3" y2="365.8" stroke="#000" stroke-width="3" />
<line x1="590.1" y1="365.8" x2="629.6" y2="327.2" stroke="#000" stroke-width="3" />
<text x="538.6" y="287.6" font-size="16" text-anchor="start" fill="#000" font-family='"Liberation Serif", serif' font-style="italic" stroke="#000" stroke-width="0.3" >x</text>
<text x="554" y="287.6" font-size="16" text-anchor="middle" fill="#000" font-family='"Liberation Serif", serif' stroke="#000" stroke-width="0.3" >+</text>
<path d="M561.6,282.6 L563.6,281.4 L566.3,288.2 L569.6,275.4 L578.2,275.4" fill="none" stroke="#000" stroke-width="1.1" stroke-linejoin="miter"/>
<text x="569.6" y="287.6" font-size="15.5" text-anchor="start" fill="#000" font-family='"Liberation Serif", serif' stroke="#000" stroke-width="0.3" >2</text>
<text x="578.8" y="288.2" font-size="16.5" text-anchor="start" fill="#000" font-family='"Liberation Serif", serif' stroke="#000" stroke-width="0.3" >/</text>
<text x="584.8" y="287.6" font-size="15.5" text-anchor="start" fill="#000" font-family='"Liberation Serif", serif' stroke="#000" stroke-width="0.3" >2</text>
<text x="561.8" y="301.6" font-size="15" fill="#000" text-anchor="middle" font-family='"Liberation Serif", serif' font-style="italic" stroke="#000" stroke-width="0.3">x</text>
<line x1="638.9" y1="269.1" x2="655.2" y2="269.1" stroke="#22e0f6" stroke-width="1.1" />
<polygon points="643.09,271.84 650.91,271.84 647,265.36" fill="#fff" stroke="#22e0f6" stroke-width="1.1" stroke-linejoin="miter"/>
<text x="657.9" y="272.7" font-size="10" fill="#000" font-family='"Liberation Sans", sans-serif'><tspan font-style="italic">n</tspan>=4</text>
<line x1="638.9" y1="281.28" x2="655.2" y2="281.28" stroke="#36bcf6" stroke-width="1.1" />
<circle cx="647" cy="281.28" r="3.4" fill="#fff" stroke="#36bcf6" stroke-width="1.1"/>
<text x="657.9" y="284.88" font-size="10" fill="#000" font-family='"Liberation Sans", sans-serif'><tspan font-style="italic">n</tspan>=5</text>
<line x1="638.9" y1="293.46" x2="655.2" y2="293.46" stroke="#4a9af8" stroke-width="1.1" />
<polygon points="644.09,289.55 650.91,293.46 644.09,297.37" fill="#fff" stroke="#4a9af8" stroke-width="1.1" stroke-linejoin="miter"/>
<text x="657.9" y="297.06" font-size="10" fill="#000" font-family='"Liberation Sans", sans-serif'><tspan font-style="italic">n</tspan>=6</text>
<line x1="638.9" y1="305.64" x2="655.2" y2="305.64" stroke="#6684f2" stroke-width="1.1" />
<rect x="644.11" y="302.75" width="5.78" height="5.78" fill="#fff" stroke="#6684f2" stroke-width="1.1"/>
<text x="657.9" y="309.24" font-size="10" fill="#000" font-family='"Liberation Sans", sans-serif'><tspan font-style="italic">n</tspan>=7</text>
<line x1="638.9" y1="317.82" x2="655.2" y2="317.82" stroke="#8a6cf0" stroke-width="1.1" />
<polygon points="649.91,313.91 643.09,317.82 649.91,321.73" fill="#fff" stroke="#8a6cf0" stroke-width="1.1" stroke-linejoin="miter"/>
<text x="657.9" y="321.42" font-size="10" fill="#000" font-family='"Liberation Sans", sans-serif'><tspan font-style="italic">n</tspan>=8</text>
<line x1="638.9" y1="330" x2="655.2" y2="330" stroke="#a452ee" stroke-width="1.1" />
<polygon points="647,326.07 650.55,330 647,333.93 643.45,330" fill="#fff" stroke="#a452ee" stroke-width="1.1" stroke-linejoin="miter"/>
<text x="657.9" y="333.6" font-size="10" fill="#000" font-family='"Liberation Sans", sans-serif'><tspan font-style="italic">n</tspan>=9</text>
</svg>
</body></html>
